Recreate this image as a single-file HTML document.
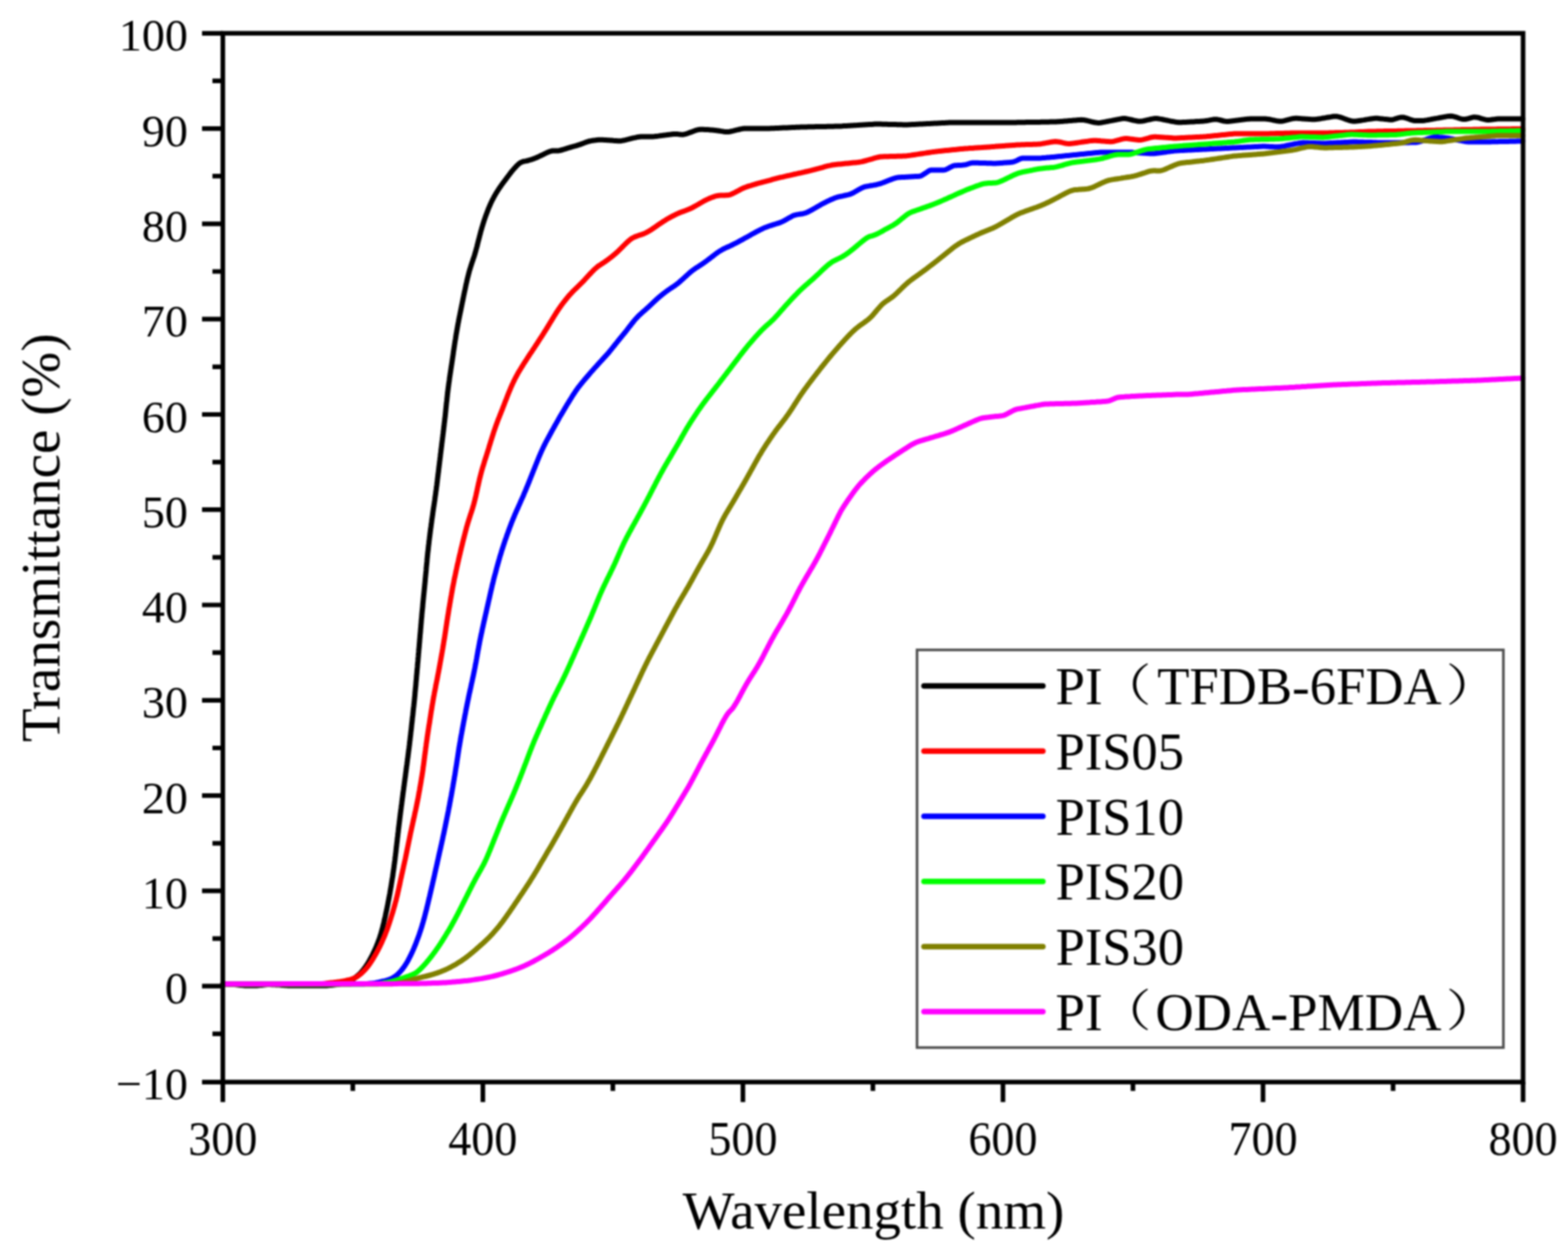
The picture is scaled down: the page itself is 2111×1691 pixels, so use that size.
<!DOCTYPE html>
<html><head><meta charset="utf-8"><style>
html,body{margin:0;padding:0;background:#fff;}
body{width:2111px;height:1691px;overflow:hidden;}
svg{display:block;filter:blur(0.9px);}
</style></head><body>
<svg width="2111" height="1691" viewBox="0 0 2111 1691" xmlns="http://www.w3.org/2000/svg">
<rect width="2111" height="1691" fill="#fff"/>
<path d="M300.0,1325.0 302.3,1325.1 304.0,1325.1 306.0,1325.2 308.0,1325.3 310.0,1325.3 312.0,1325.4 314.0,1325.5 316.0,1325.6 318.0,1325.8 320.0,1326.0 322.0,1326.2 323.9,1326.4 325.9,1326.6 327.9,1326.8 329.9,1326.9 331.9,1327.0 333.9,1327.0 335.9,1327.0 337.9,1327.0 339.9,1327.0 341.9,1327.0 343.9,1327.0 345.9,1326.9 347.9,1326.8 349.9,1326.6 351.9,1326.4 353.9,1326.2 355.9,1325.9 357.9,1325.8 359.8,1325.6 361.8,1325.6 363.8,1325.6 365.8,1325.7 367.8,1325.8 369.8,1325.8 371.8,1325.9 373.8,1326.0 375.8,1326.1 377.8,1326.2 379.8,1326.4 381.8,1326.5 383.8,1326.7 385.8,1326.8 387.8,1326.9 389.8,1327.0 391.8,1327.0 393.8,1327.0 395.8,1327.0 397.8,1327.0 399.8,1327.0 401.8,1327.0 403.8,1327.0 405.8,1327.0 407.8,1327.0 409.8,1327.0 411.8,1327.0 413.8,1327.0 415.8,1327.0 417.8,1327.0 419.8,1327.0 421.8,1327.0 423.8,1327.0 425.8,1327.0 427.8,1327.0 429.8,1327.0 431.8,1327.0 433.8,1327.0 435.8,1327.0 437.8,1327.0 439.8,1326.9 441.8,1326.8 443.8,1326.6 445.8,1326.4 447.8,1326.2 449.7,1326.0 451.7,1325.8 453.7,1325.6 455.7,1325.3 457.7,1324.9 459.6,1324.5 461.6,1324.1 463.5,1323.6 465.4,1323.0 467.3,1322.4 469.1,1321.6 470.9,1320.8 472.7,1319.9 474.4,1318.9 476.0,1317.8 477.6,1316.7 479.2,1315.5 480.7,1314.2 482.2,1312.9 483.7,1311.6 485.1,1310.2 486.4,1308.8 487.7,1307.3 489.0,1305.8 490.2,1304.2 491.4,1302.6 492.5,1301.0 493.6,1299.3 494.7,1297.7 495.8,1296.0 496.8,1294.3 497.7,1292.5 498.7,1290.8 499.6,1289.0 500.6,1287.3 501.5,1285.5 502.3,1283.7 503.2,1281.9 504.0,1280.1 504.9,1278.3 505.7,1276.4 506.5,1274.6 507.2,1272.8 508.0,1270.9 508.7,1269.1 509.4,1267.2 510.1,1265.3 510.8,1263.4 511.4,1261.5 512.0,1259.6 512.6,1257.7 513.2,1255.8 513.7,1253.9 514.2,1252.0 514.8,1250.1 515.3,1248.1 515.7,1246.2 516.2,1244.3 516.7,1242.3 517.1,1240.4 517.6,1238.4 518.0,1236.5 518.5,1234.5 518.9,1232.6 519.3,1230.6 519.7,1228.7 520.2,1226.7 520.6,1224.7 521.0,1222.8 521.4,1220.8 521.8,1218.9 522.2,1216.9 522.5,1214.9 522.9,1213.0 523.3,1211.0 523.7,1209.0 524.0,1207.1 524.4,1205.1 524.8,1203.1 525.1,1201.2 525.4,1199.2 525.8,1197.2 526.1,1195.3 526.5,1193.3 526.8,1191.3 527.1,1189.3 527.4,1187.4 527.7,1185.4 528.0,1183.4 528.4,1181.4 528.7,1179.5 529.0,1177.5 529.2,1175.5 529.5,1173.5 529.8,1171.6 530.1,1169.6 530.4,1167.6 530.6,1165.6 530.9,1163.6 531.2,1161.6 531.4,1159.7 531.7,1157.7 531.9,1155.7 532.1,1153.7 532.4,1151.7 532.6,1149.7 532.9,1147.8 533.1,1145.8 533.3,1143.8 533.5,1141.8 533.8,1139.8 534.0,1137.8 534.2,1135.8 534.5,1133.8 534.7,1131.9 534.9,1129.9 535.1,1127.9 535.4,1125.9 535.6,1123.9 535.8,1121.9 536.1,1119.9 536.3,1118.0 536.5,1116.0 536.8,1114.0 537.0,1112.0 537.3,1110.0 537.5,1108.0 537.8,1106.0 538.0,1104.1 538.2,1102.1 538.5,1100.1 538.7,1098.1 539.0,1096.1 539.2,1094.1 539.5,1092.1 539.7,1090.2 540.0,1088.2 540.2,1086.2 540.5,1084.2 540.8,1082.2 541.0,1080.2 541.3,1078.3 541.5,1076.3 541.8,1074.3 542.1,1072.3 542.3,1070.3 542.6,1068.3 542.8,1066.4 543.1,1064.4 543.4,1062.4 543.6,1060.4 543.9,1058.4 544.2,1056.5 544.4,1054.5 544.7,1052.5 545.0,1050.5 545.2,1048.5 545.5,1046.5 545.8,1044.6 546.0,1042.6 546.3,1040.6 546.6,1038.6 546.8,1036.6 547.1,1034.6 547.3,1032.7 547.6,1030.7 547.9,1028.7 548.1,1026.7 548.4,1024.7 548.6,1022.7 548.9,1020.8 549.2,1018.8 549.4,1016.8 549.7,1014.8 549.9,1012.8 550.2,1010.8 550.4,1008.9 550.7,1006.9 550.9,1004.9 551.2,1002.9 551.4,1000.9 551.6,998.9 551.9,997.0 552.1,995.0 552.3,993.0 552.6,991.0 552.8,989.0 553.0,987.0 553.2,985.0 553.5,983.0 553.7,981.1 553.9,979.1 554.1,977.1 554.3,975.1 554.6,973.1 554.8,971.1 555.0,969.1 555.2,967.1 555.4,965.2 555.7,963.2 555.9,961.2 556.1,959.2 556.3,957.2 556.5,955.2 556.7,953.2 557.0,951.2 557.2,949.2 557.4,947.3 557.6,945.3 557.8,943.3 558.0,941.3 558.2,939.3 558.4,937.3 558.6,935.3 558.7,933.3 558.9,931.3 559.1,929.3 559.3,927.3 559.5,925.4 559.7,923.4 559.9,921.4 560.0,919.4 560.2,917.4 560.4,915.4 560.6,913.4 560.7,911.4 560.9,909.4 561.1,907.4 561.3,905.4 561.4,903.4 561.6,901.5 561.8,899.5 562.0,897.5 562.1,895.5 562.3,893.5 562.5,891.5 562.7,889.5 562.8,887.5 563.0,885.5 563.2,883.5 563.3,881.5 563.5,879.5 563.7,877.5 563.8,875.5 564.0,873.6 564.2,871.6 564.4,869.6 564.5,867.6 564.7,865.6 564.9,863.6 565.0,861.6 565.2,859.6 565.4,857.6 565.5,855.6 565.7,853.6 565.9,851.6 566.1,849.6 566.2,847.6 566.4,845.7 566.6,843.7 566.7,841.7 566.9,839.7 567.1,837.7 567.2,835.7 567.4,833.7 567.6,831.7 567.8,829.7 567.9,827.7 568.1,825.7 568.3,823.7 568.5,821.7 568.7,819.8 568.9,817.8 569.1,815.8 569.2,813.8 569.4,811.8 569.6,809.8 569.8,807.8 570.0,805.8 570.2,803.8 570.4,801.8 570.6,799.9 570.8,797.9 571.0,795.9 571.2,793.9 571.4,791.9 571.6,789.9 571.8,787.9 572.0,785.9 572.2,783.9 572.4,781.9 572.5,779.9 572.7,778.0 572.9,776.0 573.1,774.0 573.3,772.0 573.5,770.0 573.7,768.0 573.8,766.0 574.0,764.0 574.2,762.0 574.4,760.0 574.6,758.0 574.8,756.0 574.9,754.1 575.1,752.1 575.3,750.1 575.5,748.1 575.7,746.1 575.9,744.1 576.2,742.1 576.4,740.1 576.6,738.1 576.8,736.2 577.0,734.2 577.3,732.2 577.5,730.2 577.7,728.2 578.0,726.2 578.2,724.2 578.5,722.3 578.7,720.3 579.0,718.3 579.2,716.3 579.5,714.3 579.7,712.3 580.0,710.4 580.3,708.4 580.5,706.4 580.8,704.4 581.1,702.4 581.3,700.4 581.6,698.5 581.9,696.5 582.2,694.5 582.5,692.5 582.7,690.5 583.0,688.6 583.3,686.6 583.6,684.6 583.9,682.6 584.2,680.7 584.5,678.7 584.8,676.7 585.1,674.7 585.4,672.7 585.6,670.8 585.9,668.8 586.2,666.8 586.5,664.8 586.7,662.8 587.0,660.9 587.3,658.9 587.5,656.9 587.8,654.9 588.1,652.9 588.3,650.9 588.6,649.0 588.8,647.0 589.0,645.0 589.3,643.0 589.5,641.0 589.8,639.0 590.0,637.0 590.3,635.1 590.5,633.1 590.7,631.1 591.0,629.1 591.2,627.1 591.5,625.1 591.7,623.1 591.9,621.2 592.2,619.2 592.4,617.2 592.7,615.2 592.9,613.2 593.1,611.2 593.4,609.2 593.6,607.3 593.9,605.3 594.1,603.3 594.4,601.3 594.6,599.3 594.8,597.3 595.1,595.4 595.3,593.4 595.6,591.4 595.8,589.4 596.1,587.4 596.3,585.4 596.6,583.4 596.8,581.5 597.1,579.5 597.3,577.5 597.5,575.5 597.8,573.5 598.0,571.5 598.2,569.5 598.5,567.6 598.7,565.6 598.9,563.6 599.2,561.6 599.4,559.6 599.6,557.6 599.8,555.6 600.0,553.6 600.2,551.7 600.4,549.7 600.6,547.7 600.8,545.7 601.0,543.7 601.2,541.7 601.5,539.7 601.7,537.7 601.9,535.7 602.1,533.8 602.3,531.8 602.5,529.8 602.8,527.8 603.0,525.8 603.3,523.8 603.5,521.8 603.8,519.9 604.0,517.9 604.3,515.9 604.6,513.9 604.9,511.9 605.1,510.0 605.4,508.0 605.7,506.0 606.0,504.0 606.3,502.0 606.6,500.1 606.9,498.1 607.2,496.1 607.5,494.1 607.8,492.1 608.1,490.2 608.4,488.2 608.7,486.2 609.0,484.2 609.3,482.3 609.6,480.3 609.9,478.3 610.2,476.3 610.4,474.3 610.7,472.4 611.0,470.4 611.3,468.4 611.6,466.4 611.9,464.5 612.2,462.5 612.5,460.5 612.8,458.5 613.2,456.6 613.5,454.6 613.8,452.6 614.1,450.6 614.4,448.7 614.8,446.7 615.1,444.7 615.5,442.7 615.8,440.8 616.2,438.8 616.5,436.8 616.9,434.9 617.3,432.9 617.6,431.0 618.0,429.0 618.4,427.0 618.8,425.1 619.2,423.1 619.6,421.1 620.0,419.2 620.4,417.2 620.8,415.3 621.2,413.3 621.6,411.3 622.0,409.4 622.4,407.4 622.8,405.5 623.2,403.5 623.6,401.5 624.0,399.6 624.4,397.6 624.8,395.7 625.2,393.7 625.6,391.8 626.1,389.8 626.5,387.9 626.9,385.9 627.3,383.9 627.7,382.0 628.2,380.0 628.6,378.1 629.1,376.1 629.5,374.2 630.0,372.3 630.5,370.3 631.0,368.4 631.5,366.5 632.0,364.5 632.6,362.6 633.2,360.7 633.8,358.8 634.4,356.9 635.0,355.0 635.6,353.1 636.3,351.2 636.9,349.4 637.5,347.5 638.2,345.6 638.8,343.7 639.4,341.8 639.9,339.9 640.5,338.0 641.0,336.0 641.5,334.1 642.1,332.2 642.6,330.2 643.0,328.3 643.5,326.4 644.0,324.4 644.5,322.5 645.0,320.6 645.5,318.6 646.0,316.7 646.5,314.8 647.0,312.8 647.5,310.9 648.1,309.0 648.6,307.1 649.2,305.2 649.8,303.2 650.4,301.3 651.0,299.4 651.6,297.5 652.2,295.6 652.9,293.7 653.5,291.9 654.2,290.0 654.9,288.1 655.6,286.2 656.3,284.4 657.0,282.5 657.7,280.6 658.5,278.8 659.3,277.0 660.1,275.1 660.9,273.3 661.8,271.5 662.6,269.7 663.6,268.0 664.5,266.2 665.4,264.4 666.4,262.7 667.4,261.0 668.4,259.3 669.5,257.6 670.6,255.9 671.7,254.2 672.8,252.6 673.9,251.0 675.1,249.3 676.2,247.7 677.4,246.1 678.6,244.5 679.8,242.9 681.0,241.3 682.2,239.7 683.4,238.1 684.6,236.5 685.8,234.9 687.0,233.3 688.2,231.8 689.4,230.2 690.7,228.7 692.0,227.2 693.3,225.8 694.6,224.4 695.9,223.0 697.3,221.7 698.8,220.4 700.3,219.3 701.9,218.4 703.7,217.7 705.5,217.2 707.5,216.9 709.4,216.5 711.4,216.0 713.3,215.4 715.2,214.9 717.1,214.2 719.0,213.6 720.8,212.8 722.7,212.1 724.5,211.2 726.3,210.4 728.1,209.5 729.9,208.7 731.7,207.8 733.4,206.9 735.2,206.1 737.0,205.2 738.8,204.5 740.6,203.8 742.4,203.3 744.3,203.0 746.2,203.0 748.2,203.0 750.1,203.0 752.1,202.9 754.0,202.5 755.9,202.0 757.8,201.5 759.7,200.9 761.6,200.3 763.5,199.7 765.4,199.1 767.3,198.5 769.2,198.0 771.2,197.4 773.1,196.9 775.0,196.4 776.9,195.8 778.8,195.2 780.7,194.6 782.6,193.9 784.5,193.2 786.3,192.5 788.2,191.8 790.1,191.1 791.9,190.5 793.9,190.0 795.8,189.6 797.8,189.3 799.8,189.0 801.7,188.8 803.7,188.5 805.7,188.3 807.7,188.2 809.7,188.2 811.7,188.3 813.7,188.4 815.7,188.5 817.7,188.7 819.7,188.8 821.7,189.0 823.7,189.1 825.7,189.3 827.6,189.4 829.6,189.5 831.6,189.7 833.6,189.7 835.6,189.7 837.6,189.4 839.5,189.0 841.5,188.6 843.4,188.1 845.3,187.7 847.3,187.2 849.2,186.7 851.2,186.2 853.1,185.7 855.0,185.3 857.0,184.8 858.9,184.4 860.9,184.2 862.9,184.0 864.9,184.0 866.9,184.0 868.9,184.0 870.9,184.0 872.9,184.0 874.9,184.0 876.9,184.0 878.9,183.9 880.9,183.8 882.9,183.6 884.8,183.4 886.8,183.1 888.8,182.8 890.8,182.6 892.8,182.3 894.8,182.0 896.7,181.8 898.7,181.5 900.7,181.2 902.7,181.0 904.7,180.7 906.6,180.5 908.6,180.4 910.6,180.4 912.6,180.6 914.5,180.9 916.5,181.1 918.4,181.2 920.3,181.0 922.2,180.6 924.1,180.1 926.0,179.5 927.8,178.8 929.7,178.1 931.5,177.4 933.4,176.7 935.3,176.0 937.1,175.4 939.0,174.9 940.9,174.5 942.9,174.3 944.9,174.3 946.9,174.3 948.9,174.4 950.9,174.5 952.9,174.6 954.9,174.7 956.9,174.9 958.9,175.0 960.8,175.2 962.8,175.4 964.8,175.7 966.8,176.0 968.8,176.3 970.7,176.6 972.7,176.9 974.7,177.2 976.7,177.4 978.6,177.5 980.6,177.4 982.5,177.2 984.5,176.8 986.4,176.4 988.4,175.9 990.3,175.4 992.3,174.9 994.2,174.5 996.1,174.0 998.1,173.6 1000.0,173.3 1002.0,173.1 1004.0,173.0 1006.0,173.0 1008.0,173.0 1010.0,173.0 1012.0,173.0 1014.0,173.0 1016.0,173.0 1018.0,173.0 1020.0,173.0 1022.0,173.0 1024.0,173.0 1026.0,173.0 1028.0,173.0 1030.0,173.0 1032.0,173.0 1034.0,173.0 1036.0,172.9 1038.0,172.8 1040.0,172.7 1042.0,172.7 1044.0,172.6 1046.0,172.5 1048.0,172.4 1050.0,172.3 1052.0,172.2 1054.0,172.1 1056.0,172.0 1058.0,172.0 1060.0,171.9 1062.0,171.8 1064.0,171.7 1066.0,171.6 1068.0,171.5 1070.0,171.4 1072.0,171.3 1074.0,171.3 1076.0,171.2 1078.0,171.1 1080.0,171.0 1082.0,171.0 1084.0,170.9 1086.0,170.9 1088.0,170.8 1090.0,170.8 1092.0,170.8 1094.0,170.7 1096.0,170.7 1098.0,170.6 1100.0,170.6 1102.0,170.6 1104.0,170.5 1106.0,170.5 1108.0,170.4 1110.0,170.4 1112.0,170.4 1114.0,170.3 1116.0,170.3 1118.0,170.2 1120.0,170.2 1122.0,170.2 1124.0,170.1 1126.0,170.1 1128.0,170.0 1130.0,170.0 1132.0,169.9 1134.0,169.8 1136.0,169.6 1137.9,169.5 1139.9,169.4 1141.9,169.3 1143.9,169.2 1145.9,169.0 1147.9,168.9 1149.9,168.8 1151.9,168.7 1153.9,168.6 1155.9,168.4 1157.9,168.3 1159.9,168.2 1161.9,168.1 1163.9,168.0 1165.9,167.8 1167.9,167.7 1169.9,167.6 1171.9,167.5 1173.9,167.4 1175.9,167.2 1177.9,167.1 1179.9,167.1 1181.9,167.1 1183.9,167.1 1185.9,167.1 1187.9,167.2 1189.9,167.2 1191.9,167.3 1193.9,167.3 1195.9,167.4 1197.9,167.4 1199.9,167.5 1201.9,167.5 1203.9,167.6 1205.9,167.6 1207.9,167.7 1209.9,167.7 1211.9,167.8 1213.9,167.8 1215.9,167.9 1217.9,167.9 1219.9,167.9 1221.9,167.9 1223.9,167.8 1225.9,167.7 1227.9,167.6 1229.8,167.5 1231.8,167.4 1233.8,167.3 1235.8,167.2 1237.8,167.1 1239.8,167.0 1241.8,166.9 1243.8,166.8 1245.8,166.7 1247.8,166.6 1249.8,166.5 1251.8,166.4 1253.8,166.3 1255.8,166.2 1257.8,166.1 1259.8,166.0 1261.8,165.9 1263.8,165.8 1265.8,165.7 1267.8,165.6 1269.8,165.5 1271.8,165.4 1273.8,165.3 1275.8,165.2 1277.8,165.1 1279.8,165.0 1281.8,165.0 1283.8,165.0 1285.8,165.0 1287.8,165.0 1289.8,165.0 1291.8,165.0 1293.8,165.0 1295.8,165.0 1297.8,165.0 1299.8,165.0 1301.8,165.0 1303.8,165.0 1305.8,165.0 1307.8,165.0 1309.8,165.0 1311.8,165.0 1313.8,165.0 1315.8,165.0 1317.8,165.0 1319.8,165.0 1321.8,165.0 1323.8,165.0 1325.8,165.0 1327.8,165.0 1329.8,165.0 1331.8,165.0 1333.8,165.0 1335.8,165.0 1337.8,165.0 1339.8,165.0 1341.8,165.0 1343.8,165.0 1345.8,165.0 1347.8,165.0 1349.8,165.0 1351.8,165.0 1353.8,165.0 1355.8,165.0 1357.8,165.0 1359.8,165.0 1361.8,165.0 1363.8,164.9 1365.8,164.9 1367.8,164.9 1369.8,164.8 1371.8,164.8 1373.8,164.8 1375.8,164.7 1377.8,164.7 1379.8,164.7 1381.8,164.6 1383.8,164.6 1385.8,164.6 1387.8,164.6 1389.8,164.5 1391.8,164.5 1393.8,164.5 1395.8,164.4 1397.8,164.4 1399.8,164.4 1401.8,164.3 1403.8,164.3 1405.8,164.3 1407.8,164.2 1409.8,164.2 1411.8,164.2 1413.8,164.1 1415.8,164.1 1417.8,164.1 1419.8,164.0 1421.8,164.0 1423.8,163.8 1425.8,163.7 1427.8,163.5 1429.8,163.4 1431.7,163.2 1433.7,163.0 1435.7,162.9 1437.7,162.7 1439.7,162.5 1441.7,162.4 1443.7,162.2 1445.7,162.0 1447.7,161.9 1449.7,161.7 1451.7,161.5 1453.7,161.4 1455.7,161.3 1457.6,161.4 1459.6,161.6 1461.5,162.0 1463.5,162.4 1465.4,162.9 1467.4,163.3 1469.3,163.8 1471.2,164.3 1473.2,164.7 1475.1,165.1 1477.1,165.3 1479.0,165.4 1481.0,165.3 1482.9,165.0 1484.9,164.6 1486.9,164.3 1488.8,163.9 1490.8,163.5 1492.8,163.1 1494.7,162.7 1496.7,162.4 1498.7,162.0 1500.6,161.6 1502.6,161.2 1504.5,160.8 1506.5,160.5 1508.5,160.1 1510.4,159.8 1512.4,159.6 1514.3,159.6 1516.3,159.8 1518.2,160.2 1520.2,160.6 1522.1,161.0 1524.1,161.5 1526.0,162.0 1527.9,162.4 1529.9,162.8 1531.8,163.2 1533.8,163.3 1535.7,163.2 1537.7,163.0 1539.6,162.7 1541.6,162.3 1543.5,161.8 1545.5,161.4 1547.4,161.0 1549.4,160.5 1551.3,160.1 1553.3,159.8 1555.2,159.6 1557.2,159.6 1559.1,159.8 1561.1,160.1 1563.0,160.4 1565.0,160.8 1567.0,161.2 1568.9,161.6 1570.9,162.0 1572.9,162.4 1574.8,162.8 1576.8,163.2 1578.7,163.5 1580.7,163.9 1582.7,164.3 1584.6,164.6 1586.6,164.8 1588.6,164.8 1590.6,164.7 1592.6,164.6 1594.6,164.5 1596.6,164.4 1598.6,164.3 1600.6,164.2 1602.6,164.1 1604.6,164.0 1606.6,163.9 1608.6,163.7 1610.6,163.6 1612.6,163.5 1614.5,163.4 1616.5,163.3 1618.5,163.2 1620.5,163.0 1622.5,162.8 1624.5,162.5 1626.5,162.2 1628.4,161.8 1630.4,161.4 1632.4,161.1 1634.3,160.8 1636.3,160.7 1638.2,160.8 1640.1,161.1 1642.0,161.5 1643.9,162.0 1645.8,162.5 1647.8,163.0 1649.7,163.3 1651.6,163.5 1653.6,163.5 1655.6,163.3 1657.6,163.1 1659.5,162.8 1661.5,162.6 1663.5,162.3 1665.5,162.1 1667.5,161.8 1669.5,161.6 1671.4,161.3 1673.4,161.1 1675.4,160.8 1677.4,160.6 1679.4,160.3 1681.4,160.2 1683.4,160.0 1685.4,160.0 1687.4,160.0 1689.4,160.0 1691.4,160.0 1693.4,160.0 1695.4,160.0 1697.4,160.0 1699.4,160.0 1701.4,160.0 1703.4,160.0 1705.3,160.2 1707.3,160.4 1709.3,160.8 1711.2,161.2 1713.2,161.6 1715.1,162.0 1717.1,162.4 1719.0,162.8 1721.0,163.1 1722.9,163.3 1724.9,163.2 1726.8,163.0 1728.7,162.6 1730.7,162.1 1732.6,161.6 1734.5,161.1 1736.5,160.6 1738.4,160.1 1740.3,159.7 1742.3,159.4 1744.2,159.3 1746.2,159.3 1748.2,159.4 1750.2,159.6 1752.2,159.7 1754.2,159.9 1756.2,160.0 1758.2,160.2 1760.2,160.3 1762.2,160.4 1764.2,160.6 1766.2,160.7 1768.2,160.8 1770.2,160.7 1772.1,160.6 1774.1,160.3 1776.1,160.0 1778.1,159.7 1780.0,159.3 1782.0,159.0 1784.0,158.7 1785.9,158.3 1787.9,158.0 1789.9,157.7 1791.9,157.4 1793.8,157.0 1795.8,156.8 1797.8,156.7 1799.7,156.8 1801.6,157.1 1803.5,157.6 1805.4,158.2 1807.2,158.8 1809.1,159.5 1811.0,160.2 1812.9,160.9 1814.7,161.5 1816.6,162.1 1818.5,162.7 1820.4,163.1 1822.3,163.3 1824.3,163.3 1826.2,163.1 1828.2,162.8 1830.2,162.5 1832.1,162.2 1834.1,161.9 1836.1,161.6 1838.1,161.2 1840.0,160.9 1842.0,160.6 1844.0,160.3 1846.0,160.0 1847.9,159.7 1849.9,159.4 1851.9,159.3 1853.9,159.3 1855.9,159.5 1857.8,159.7 1859.8,159.9 1861.8,160.1 1863.8,160.4 1865.8,160.6 1867.8,160.8 1869.8,161.0 1871.7,161.2 1873.7,161.3 1875.5,161.0 1877.2,160.5 1878.9,159.8 1880.6,159.3 1882.2,158.8 1883.9,158.4 1885.6,158.1 1887.3,157.9 1889.0,158.0 1890.8,158.3 1892.6,158.8 1894.4,159.4 1896.2,160.1 1898.1,160.8 1900.0,161.4 1901.9,162.0 1903.8,162.4 1905.7,162.6 1907.7,162.6 1909.7,162.6 1911.7,162.6 1913.7,162.6 1915.7,162.4 1917.7,162.2 1919.7,161.9 1921.6,161.6 1923.6,161.2 1925.6,160.9 1927.5,160.5 1929.5,160.1 1931.5,159.8 1933.4,159.4 1935.4,159.1 1937.4,158.7 1939.3,158.3 1941.3,158.0 1943.3,157.6 1945.3,157.3 1947.2,156.9 1949.2,156.6 1951.1,156.4 1953.1,156.3 1955.0,156.4 1956.9,156.8 1958.8,157.3 1960.7,157.9 1962.5,158.5 1964.4,159.2 1966.2,159.8 1968.1,160.2 1969.9,160.5 1971.7,160.6 1973.4,160.4 1975.2,160.0 1976.9,159.6 1978.7,159.1 1980.4,158.6 1982.2,158.1 1983.9,157.8 1985.7,157.7 1987.6,157.9 1989.5,158.2 1991.3,158.7 1993.2,159.3 1995.1,159.9 1997.1,160.4 1999.0,160.9 2000.9,161.2 2002.8,161.4 2004.8,161.4 2006.8,161.3 2008.7,161.0 2010.7,160.7 2012.7,160.5 2014.7,160.2 2016.7,160.1 2018.7,160.0 2020.7,160.0 2022.7,160.0 2024.7,160.0 2026.7,160.0 2028.7,160.0 2030.7,160.0 2032.7,160.0 2034.7,160.0 2036.7,160.0 2038.7,160.0 2040.7,160.0 2042.7,160.0 2044.7,160.0 2046.7,160.0 2048.5,160.0 2050.0,160.0" fill="none" stroke="#000000" stroke-width="7" stroke-linejoin="round" stroke-linecap="round"/>
<path d="M300.0,1325.0 302.2,1325.0 304.0,1325.0 306.0,1325.0 308.0,1325.0 310.0,1325.0 312.0,1325.0 314.0,1325.0 316.0,1325.0 318.0,1325.0 320.0,1325.0 322.0,1325.0 324.0,1325.0 326.0,1325.0 328.0,1325.0 330.0,1325.0 332.0,1325.0 334.0,1324.9 336.0,1324.9 338.0,1324.9 340.0,1324.9 342.0,1324.9 344.0,1324.9 346.0,1324.9 348.0,1324.9 350.0,1324.9 352.0,1324.9 354.0,1324.9 356.0,1324.9 358.0,1324.9 360.0,1324.9 362.0,1324.9 364.0,1324.9 366.0,1324.9 368.0,1324.9 370.0,1324.9 372.0,1324.9 374.0,1324.9 376.0,1324.9 378.0,1324.9 380.0,1324.9 382.0,1324.9 384.0,1324.9 386.0,1324.9 388.0,1324.9 390.0,1324.9 392.0,1324.9 394.0,1324.9 396.0,1324.9 398.0,1324.8 400.0,1324.8 402.0,1324.8 404.0,1324.8 406.0,1324.8 408.0,1324.8 410.0,1324.8 412.0,1324.8 414.0,1324.8 416.0,1324.8 418.0,1324.8 420.0,1324.8 422.0,1324.8 424.0,1324.8 426.0,1324.8 428.0,1324.8 430.0,1324.7 432.0,1324.6 434.0,1324.4 436.0,1324.2 438.0,1324.0 439.9,1323.7 441.9,1323.5 443.9,1323.3 445.9,1323.1 447.9,1322.9 449.9,1322.6 451.9,1322.4 453.8,1322.1 455.8,1321.9 457.8,1321.6 459.8,1321.3 461.8,1321.0 463.7,1320.6 465.7,1320.2 467.6,1319.7 469.6,1319.3 471.5,1318.8 473.4,1318.2 475.3,1317.5 477.1,1316.7 478.9,1315.9 480.6,1314.9 482.2,1313.8 483.8,1312.7 485.3,1311.4 486.8,1310.2 488.3,1308.8 489.7,1307.4 491.0,1306.0 492.4,1304.6 493.6,1303.1 494.9,1301.5 496.1,1300.0 497.3,1298.4 498.4,1296.7 499.5,1295.1 500.6,1293.4 501.7,1291.7 502.7,1290.0 503.7,1288.3 504.7,1286.6 505.7,1284.9 506.7,1283.1 507.6,1281.4 508.6,1279.6 509.5,1277.8 510.4,1276.0 511.3,1274.3 512.2,1272.5 513.0,1270.7 513.9,1268.9 514.7,1267.0 515.5,1265.2 516.3,1263.4 517.1,1261.6 517.9,1259.7 518.6,1257.9 519.3,1256.0 520.1,1254.1 520.8,1252.3 521.5,1250.4 522.1,1248.5 522.8,1246.6 523.4,1244.7 524.1,1242.8 524.7,1240.9 525.3,1239.0 525.9,1237.1 526.5,1235.2 527.1,1233.3 527.7,1231.4 528.3,1229.5 528.9,1227.6 529.4,1225.7 530.0,1223.7 530.5,1221.8 531.1,1219.9 531.6,1218.0 532.1,1216.0 532.6,1214.1 533.2,1212.2 533.6,1210.2 534.1,1208.3 534.6,1206.4 535.1,1204.4 535.5,1202.5 535.9,1200.5 536.4,1198.6 536.8,1196.6 537.2,1194.7 537.7,1192.7 538.1,1190.7 538.5,1188.8 538.9,1186.8 539.3,1184.9 539.7,1182.9 540.2,1181.0 540.6,1179.0 541.0,1177.1 541.5,1175.1 541.9,1173.2 542.3,1171.2 542.8,1169.3 543.2,1167.3 543.6,1165.4 544.1,1163.4 544.5,1161.5 544.9,1159.5 545.4,1157.5 545.8,1155.6 546.2,1153.6 546.6,1151.7 547.0,1149.7 547.4,1147.8 547.8,1145.8 548.2,1143.8 548.6,1141.9 549.0,1139.9 549.4,1138.0 549.8,1136.0 550.2,1134.0 550.6,1132.1 551.0,1130.1 551.4,1128.2 551.8,1126.2 552.2,1124.2 552.6,1122.3 553.0,1120.3 553.5,1118.4 553.9,1116.4 554.3,1114.5 554.7,1112.5 555.2,1110.6 555.6,1108.6 556.0,1106.7 556.5,1104.7 556.9,1102.7 557.3,1100.8 557.8,1098.8 558.2,1096.9 558.6,1094.9 559.0,1093.0 559.5,1091.0 559.9,1089.1 560.3,1087.1 560.7,1085.2 561.1,1083.2 561.5,1081.2 561.9,1079.3 562.3,1077.3 562.7,1075.4 563.1,1073.4 563.4,1071.4 563.8,1069.5 564.1,1067.5 564.5,1065.5 564.9,1063.6 565.2,1061.6 565.5,1059.6 565.9,1057.7 566.2,1055.7 566.6,1053.7 566.9,1051.7 567.2,1049.8 567.5,1047.8 567.9,1045.8 568.2,1043.8 568.5,1041.9 568.8,1039.9 569.1,1037.9 569.4,1035.9 569.6,1034.0 569.9,1032.0 570.2,1030.0 570.5,1028.0 570.7,1026.0 571.0,1024.0 571.2,1022.1 571.5,1020.1 571.7,1018.1 572.0,1016.1 572.3,1014.1 572.5,1012.1 572.8,1010.2 573.0,1008.2 573.3,1006.2 573.6,1004.2 573.8,1002.2 574.1,1000.3 574.4,998.3 574.7,996.3 575.0,994.3 575.2,992.3 575.5,990.4 575.8,988.4 576.1,986.4 576.4,984.4 576.7,982.4 577.0,980.5 577.3,978.5 577.6,976.5 578.0,974.5 578.3,972.6 578.6,970.6 578.9,968.6 579.2,966.6 579.5,964.7 579.8,962.7 580.1,960.7 580.4,958.7 580.7,956.8 581.1,954.8 581.4,952.8 581.7,950.8 582.0,948.9 582.4,946.9 582.7,944.9 583.0,943.0 583.4,941.0 583.7,939.0 584.1,937.0 584.5,935.1 584.8,933.1 585.2,931.2 585.6,929.2 586.0,927.2 586.4,925.3 586.7,923.3 587.1,921.3 587.5,919.4 587.9,917.4 588.3,915.5 588.7,913.5 589.1,911.5 589.4,909.6 589.8,907.6 590.2,905.6 590.6,903.7 590.9,901.7 591.3,899.7 591.7,897.8 592.0,895.8 592.4,893.8 592.7,891.9 593.1,889.9 593.4,887.9 593.8,886.0 594.1,884.0 594.5,882.0 594.8,880.1 595.2,878.1 595.5,876.1 595.9,874.1 596.2,872.2 596.5,870.2 596.9,868.2 597.2,866.3 597.5,864.3 597.8,862.3 598.2,860.3 598.5,858.4 598.8,856.4 599.1,854.4 599.4,852.4 599.7,850.5 600.0,848.5 600.3,846.5 600.6,844.5 600.9,842.5 601.2,840.6 601.5,838.6 601.8,836.6 602.1,834.6 602.4,832.7 602.7,830.7 603.0,828.7 603.4,826.7 603.7,824.8 604.0,822.8 604.3,820.8 604.6,818.8 605.0,816.9 605.3,814.9 605.6,812.9 606.0,810.9 606.3,809.0 606.6,807.0 607.0,805.0 607.3,803.1 607.7,801.1 608.0,799.1 608.4,797.2 608.7,795.2 609.1,793.2 609.4,791.3 609.8,789.3 610.2,787.3 610.6,785.4 611.0,783.4 611.3,781.4 611.7,779.5 612.1,777.5 612.6,775.6 613.0,773.6 613.4,771.7 613.8,769.7 614.2,767.7 614.7,765.8 615.1,763.8 615.5,761.9 616.0,759.9 616.4,758.0 616.9,756.0 617.3,754.1 617.7,752.1 618.2,750.2 618.6,748.2 619.1,746.3 619.6,744.3 620.0,742.4 620.5,740.5 620.9,738.5 621.4,736.6 621.9,734.6 622.4,732.7 622.8,730.7 623.3,728.8 623.8,726.9 624.3,724.9 624.8,723.0 625.3,721.0 625.8,719.1 626.3,717.2 626.8,715.2 627.3,713.3 627.8,711.4 628.3,709.4 628.9,707.5 629.4,705.6 630.0,703.7 630.6,701.8 631.2,699.9 631.8,698.0 632.4,696.1 633.0,694.2 633.6,692.3 634.3,690.4 634.9,688.5 635.5,686.6 636.1,684.7 636.7,682.8 637.2,680.9 637.8,678.9 638.3,677.0 638.8,675.1 639.3,673.2 639.8,671.2 640.2,669.3 640.7,667.3 641.1,665.4 641.6,663.4 642.0,661.5 642.4,659.5 642.8,657.6 643.2,655.6 643.7,653.7 644.1,651.7 644.5,649.8 645.0,647.8 645.4,645.9 645.9,643.9 646.4,642.0 646.9,640.0 647.4,638.1 647.9,636.2 648.4,634.3 649.0,632.3 649.5,630.4 650.1,628.5 650.7,626.6 651.3,624.7 651.9,622.8 652.4,620.9 653.0,619.0 653.7,617.0 654.3,615.1 654.9,613.2 655.5,611.3 656.1,609.4 656.7,607.5 657.3,605.6 657.9,603.7 658.4,601.8 659.0,599.9 659.6,598.0 660.2,596.1 660.8,594.1 661.4,592.2 662.0,590.3 662.6,588.4 663.2,586.5 663.8,584.6 664.4,582.7 665.0,580.8 665.7,578.9 666.3,577.0 667.0,575.1 667.6,573.2 668.3,571.4 669.0,569.5 669.7,567.6 670.4,565.8 671.1,563.9 671.9,562.0 672.6,560.2 673.3,558.3 674.1,556.5 674.8,554.6 675.6,552.7 676.3,550.9 677.0,549.0 677.7,547.2 678.5,545.3 679.2,543.4 679.9,541.6 680.6,539.7 681.4,537.8 682.1,536.0 682.8,534.1 683.5,532.2 684.3,530.4 685.0,528.5 685.8,526.7 686.6,524.8 687.3,523.0 688.1,521.2 688.9,519.3 689.7,517.5 690.6,515.7 691.4,513.9 692.3,512.1 693.2,510.3 694.1,508.5 695.0,506.8 696.0,505.0 696.9,503.3 697.9,501.6 698.9,499.8 700.0,498.1 701.0,496.4 702.1,494.7 703.1,493.0 704.2,491.3 705.2,489.6 706.3,487.9 707.4,486.3 708.5,484.6 709.6,482.9 710.7,481.2 711.8,479.5 712.8,477.9 713.9,476.2 715.1,474.5 716.2,472.9 717.3,471.2 718.4,469.5 719.5,467.9 720.6,466.2 721.7,464.5 722.8,462.8 723.9,461.2 724.9,459.5 726.0,457.8 727.1,456.1 728.2,454.5 729.3,452.8 730.4,451.1 731.5,449.4 732.5,447.7 733.6,446.0 734.7,444.3 735.7,442.7 736.8,441.0 737.8,439.2 738.9,437.5 739.9,435.8 740.9,434.1 742.0,432.4 743.0,430.7 744.0,429.0 745.1,427.3 746.1,425.6 747.2,423.9 748.2,422.2 749.3,420.5 750.4,418.8 751.5,417.2 752.6,415.5 753.8,413.9 754.9,412.3 756.1,410.6 757.3,409.0 758.5,407.4 759.7,405.9 760.9,404.3 762.2,402.7 763.4,401.2 764.7,399.6 766.0,398.1 767.3,396.6 768.7,395.2 770.0,393.7 771.4,392.3 772.8,390.9 774.2,389.5 775.7,388.1 777.1,386.7 778.6,385.3 780.0,383.9 781.4,382.5 782.8,381.1 784.2,379.7 785.6,378.3 787.0,376.8 788.3,375.3 789.7,373.9 791.0,372.4 792.4,370.9 793.7,369.5 795.1,368.0 796.4,366.6 797.8,365.2 799.2,363.8 800.6,362.4 802.1,361.1 803.6,359.8 805.1,358.6 806.7,357.4 808.4,356.4 810.0,355.3 811.7,354.2 813.4,353.1 815.0,352.0 816.6,350.9 818.3,349.7 819.8,348.5 821.4,347.3 823.0,346.1 824.6,344.8 826.1,343.5 827.6,342.3 829.1,341.0 830.6,339.6 832.1,338.3 833.5,336.9 834.9,335.5 836.3,334.1 837.7,332.7 839.1,331.3 840.5,329.9 841.9,328.5 843.3,327.1 844.7,325.8 846.2,324.5 847.6,323.2 849.2,322.0 850.8,320.9 852.5,320.0 854.2,319.1 856.1,318.4 857.9,317.7 859.8,317.0 861.7,316.4 863.6,315.8 865.5,315.1 867.3,314.4 869.1,313.6 870.9,312.7 872.6,311.7 874.3,310.7 876.0,309.7 877.7,308.6 879.3,307.5 881.0,306.4 882.6,305.2 884.3,304.1 885.9,302.9 887.6,301.8 889.2,300.7 890.9,299.6 892.5,298.5 894.2,297.4 895.9,296.4 897.6,295.3 899.4,294.3 901.1,293.3 902.8,292.4 904.6,291.4 906.4,290.5 908.2,289.6 909.9,288.7 911.7,287.9 913.6,287.1 915.4,286.3 917.3,285.5 919.1,284.9 921.0,284.2 922.9,283.5 924.8,282.8 926.6,282.1 928.4,281.3 930.2,280.5 932.0,279.6 933.8,278.6 935.5,277.7 937.2,276.7 939.0,275.7 940.7,274.7 942.4,273.7 944.1,272.7 945.9,271.7 947.6,270.7 949.4,269.8 951.2,268.9 953.0,268.1 954.8,267.3 956.6,266.5 958.5,265.8 960.4,265.1 962.2,264.4 964.1,263.9 966.1,263.5 968.0,263.2 970.0,263.1 972.0,263.0 974.0,263.0 976.0,262.9 978.0,262.8 980.0,262.7 981.9,262.4 983.8,261.8 985.6,261.1 987.3,260.2 989.1,259.3 990.8,258.4 992.6,257.5 994.3,256.6 996.1,255.6 997.8,254.7 999.6,253.8 1001.4,253.0 1003.3,252.2 1005.1,251.6 1007.0,250.9 1008.9,250.3 1010.8,249.8 1012.8,249.2 1014.7,248.6 1016.6,248.0 1018.5,247.5 1020.4,246.9 1022.4,246.4 1024.3,245.9 1026.2,245.3 1028.1,244.8 1030.1,244.3 1032.0,243.8 1033.9,243.3 1035.9,242.8 1037.8,242.3 1039.7,241.7 1041.7,241.2 1043.6,240.7 1045.5,240.2 1047.5,239.7 1049.4,239.2 1051.4,238.7 1053.3,238.3 1055.3,237.8 1057.2,237.4 1059.2,236.9 1061.1,236.5 1063.1,236.1 1065.0,235.6 1067.0,235.2 1068.9,234.7 1070.9,234.3 1072.8,233.9 1074.8,233.4 1076.7,233.0 1078.7,232.6 1080.6,232.1 1082.6,231.7 1084.5,231.2 1086.5,230.8 1088.4,230.3 1090.4,229.8 1092.3,229.4 1094.2,228.9 1096.2,228.4 1098.1,227.8 1100.0,227.3 1102.0,226.8 1103.9,226.3 1105.8,225.8 1107.8,225.3 1109.7,224.7 1111.6,224.2 1113.6,223.7 1115.5,223.2 1117.4,222.8 1119.4,222.3 1121.3,222.0 1123.3,221.7 1125.3,221.5 1127.3,221.3 1129.3,221.1 1131.3,220.9 1133.3,220.7 1135.3,220.5 1137.2,220.3 1139.2,220.1 1141.2,219.9 1143.2,219.7 1145.2,219.5 1147.2,219.3 1149.2,219.1 1151.2,218.9 1153.2,218.7 1155.2,218.5 1157.1,218.2 1159.1,217.9 1161.1,217.5 1163.0,217.0 1164.9,216.5 1166.8,216.0 1168.8,215.4 1170.7,214.9 1172.6,214.3 1174.5,213.8 1176.5,213.2 1178.4,212.7 1180.3,212.2 1182.2,211.7 1184.2,211.3 1186.1,211.0 1188.1,210.9 1190.1,210.8 1192.1,210.8 1194.1,210.7 1196.1,210.7 1198.1,210.6 1200.1,210.6 1202.1,210.5 1204.1,210.4 1206.1,210.4 1208.1,210.3 1210.1,210.3 1212.1,210.2 1214.1,210.2 1216.1,210.1 1218.1,210.0 1220.1,209.9 1222.1,209.6 1224.1,209.4 1226.1,209.1 1228.0,208.8 1230.0,208.5 1232.0,208.2 1234.0,207.9 1235.9,207.6 1237.9,207.3 1239.9,207.0 1241.9,206.7 1243.9,206.4 1245.8,206.1 1247.8,205.8 1249.8,205.5 1251.8,205.2 1253.7,204.9 1255.7,204.6 1257.7,204.4 1259.7,204.1 1261.7,203.9 1263.7,203.6 1265.6,203.4 1267.6,203.2 1269.6,203.0 1271.6,202.8 1273.6,202.6 1275.6,202.4 1277.6,202.2 1279.6,202.0 1281.6,201.8 1283.6,201.6 1285.5,201.4 1287.5,201.2 1289.5,201.0 1291.5,200.8 1293.5,200.6 1295.5,200.5 1297.5,200.3 1299.5,200.1 1301.5,199.9 1303.5,199.8 1305.5,199.6 1307.5,199.5 1309.5,199.4 1311.4,199.2 1313.4,199.1 1315.4,199.0 1317.4,198.8 1319.4,198.7 1321.4,198.6 1323.4,198.4 1325.4,198.3 1327.4,198.2 1329.4,198.0 1331.4,197.9 1333.4,197.7 1335.4,197.6 1337.4,197.4 1339.4,197.3 1341.4,197.1 1343.4,197.0 1345.4,196.8 1347.4,196.7 1349.4,196.5 1351.3,196.4 1353.3,196.2 1355.3,196.1 1357.3,196.0 1359.3,195.8 1361.3,195.7 1363.3,195.5 1365.3,195.4 1367.3,195.2 1369.3,195.1 1371.3,195.0 1373.3,194.9 1375.3,194.8 1377.3,194.8 1379.3,194.7 1381.3,194.6 1383.3,194.6 1385.3,194.5 1387.3,194.4 1389.3,194.4 1391.3,194.3 1393.3,194.2 1395.3,194.2 1397.3,194.1 1399.3,193.9 1401.2,193.7 1403.2,193.4 1405.2,193.0 1407.2,192.7 1409.1,192.3 1411.1,192.0 1413.1,191.6 1415.0,191.3 1417.0,191.0 1419.0,190.7 1420.9,190.6 1422.9,190.7 1424.8,190.9 1426.8,191.3 1428.7,191.7 1430.7,192.2 1432.6,192.6 1434.5,193.0 1436.5,193.3 1438.4,193.5 1440.4,193.5 1442.4,193.3 1444.4,193.1 1446.3,192.8 1448.3,192.5 1450.3,192.2 1452.3,191.9 1454.3,191.6 1456.2,191.3 1458.2,191.0 1460.2,190.7 1462.2,190.4 1464.1,190.2 1466.1,189.9 1468.1,189.6 1470.1,189.4 1472.1,189.2 1474.1,189.2 1476.0,189.3 1478.0,189.5 1480.0,189.6 1482.0,189.8 1484.0,189.9 1486.0,190.1 1488.0,190.2 1490.0,190.4 1492.0,190.5 1494.0,190.7 1496.0,190.7 1497.9,190.5 1499.9,190.2 1501.8,189.7 1503.7,189.2 1505.6,188.6 1507.5,188.1 1509.4,187.5 1511.4,187.1 1513.3,186.7 1515.2,186.5 1517.2,186.6 1519.2,186.7 1521.2,187.0 1523.1,187.2 1525.1,187.5 1527.1,187.8 1529.1,188.1 1531.1,188.3 1533.0,188.5 1535.0,188.4 1536.9,188.2 1538.9,187.9 1540.8,187.4 1542.7,186.9 1544.6,186.3 1546.5,185.8 1548.4,185.2 1550.4,184.8 1552.3,184.5 1554.3,184.3 1556.2,184.3 1558.2,184.4 1560.2,184.5 1562.2,184.7 1564.2,184.8 1566.2,184.9 1568.2,185.1 1570.2,185.2 1572.2,185.3 1574.2,185.5 1576.2,185.6 1578.2,185.7 1580.2,185.9 1582.2,185.9 1584.2,185.9 1586.2,185.8 1588.2,185.7 1590.2,185.6 1592.2,185.5 1594.2,185.4 1596.2,185.3 1598.2,185.2 1600.2,185.1 1602.2,185.0 1604.2,184.9 1606.2,184.8 1608.2,184.7 1610.2,184.6 1612.1,184.5 1614.1,184.4 1616.1,184.3 1618.1,184.2 1620.1,184.1 1622.1,183.9 1624.1,183.8 1626.1,183.6 1628.1,183.4 1630.1,183.2 1632.1,183.0 1634.1,182.8 1636.1,182.6 1638.1,182.4 1640.0,182.2 1642.0,182.0 1644.0,181.8 1646.0,181.6 1648.0,181.4 1650.0,181.2 1652.0,181.0 1654.0,180.8 1656.0,180.6 1658.0,180.4 1659.9,180.2 1661.9,180.1 1663.9,180.0 1665.9,180.0 1667.9,180.0 1669.9,180.0 1671.9,180.0 1673.9,180.0 1675.9,180.0 1677.9,180.0 1679.9,180.0 1681.9,180.0 1683.9,180.0 1685.9,180.0 1687.9,180.0 1689.9,180.0 1691.9,180.0 1693.9,180.0 1695.9,180.0 1697.9,180.0 1699.9,180.0 1701.9,180.0 1703.9,179.9 1705.9,179.9 1707.9,179.9 1709.9,179.8 1711.9,179.8 1713.9,179.7 1715.9,179.7 1717.9,179.6 1719.9,179.6 1721.9,179.5 1723.9,179.5 1725.9,179.4 1727.9,179.4 1729.9,179.3 1731.9,179.3 1733.9,179.2 1735.9,179.2 1737.9,179.1 1739.9,179.1 1741.9,179.0 1743.9,179.0 1745.9,179.0 1747.9,179.0 1749.9,179.0 1751.9,179.0 1753.9,179.0 1755.9,179.0 1757.9,179.0 1759.9,179.0 1761.9,179.0 1763.9,179.0 1765.9,179.0 1767.9,179.0 1769.9,179.0 1771.9,179.0 1773.9,179.0 1775.9,179.0 1777.9,179.0 1779.9,179.0 1781.9,179.0 1783.9,178.9 1785.9,178.9 1787.9,178.9 1789.9,178.8 1791.9,178.8 1793.9,178.7 1795.9,178.7 1797.9,178.6 1799.9,178.6 1801.9,178.5 1803.9,178.5 1805.9,178.4 1807.9,178.4 1809.9,178.3 1811.9,178.3 1813.9,178.2 1815.9,178.2 1817.9,178.1 1819.9,178.0 1821.9,178.0 1823.9,177.9 1825.9,177.8 1827.9,177.7 1829.9,177.6 1831.9,177.5 1833.9,177.5 1835.9,177.4 1837.9,177.3 1839.9,177.2 1841.9,177.1 1843.9,177.0 1845.9,177.0 1847.9,176.9 1849.9,176.9 1851.9,176.9 1853.9,176.8 1855.9,176.8 1857.9,176.8 1859.9,176.7 1861.9,176.7 1863.9,176.6 1865.9,176.6 1867.9,176.6 1869.9,176.5 1871.9,176.5 1873.9,176.5 1875.9,176.4 1877.9,176.4 1879.9,176.4 1881.9,176.3 1883.9,176.3 1885.9,176.3 1887.9,176.2 1889.9,176.2 1891.9,176.1 1893.9,176.1 1895.9,176.1 1897.9,176.0 1899.9,176.0 1901.9,176.0 1903.9,175.9 1905.9,175.9 1907.9,175.8 1909.9,175.8 1911.9,175.8 1913.9,175.7 1915.9,175.7 1917.9,175.6 1919.9,175.6 1921.9,175.6 1923.9,175.5 1925.9,175.5 1927.9,175.4 1929.9,175.4 1931.9,175.4 1933.9,175.3 1935.9,175.3 1937.9,175.2 1939.9,175.2 1941.9,175.2 1943.9,175.1 1945.9,175.1 1947.9,175.0 1949.9,175.0 1951.9,175.0 1953.9,174.9 1955.9,174.9 1957.9,174.8 1959.9,174.8 1961.9,174.8 1963.9,174.7 1965.9,174.7 1967.9,174.6 1969.9,174.6 1971.9,174.6 1973.9,174.5 1975.9,174.5 1977.9,174.4 1979.9,174.4 1981.9,174.4 1983.9,174.3 1985.9,174.3 1987.9,174.2 1989.9,174.2 1991.9,174.2 1993.9,174.1 1995.9,174.1 1997.9,174.0 1999.9,174.0 2001.9,174.0 2003.9,174.0 2005.9,173.9 2007.9,173.9 2009.9,173.9 2011.9,173.9 2013.9,173.9 2015.9,173.8 2017.9,173.8 2019.9,173.8 2021.9,173.8 2023.9,173.8 2025.9,173.7 2027.9,173.7 2029.9,173.7 2031.9,173.7 2033.9,173.7 2035.9,173.6 2037.9,173.6 2039.9,173.6 2041.9,173.6 2043.9,173.6 2045.9,173.5 2047.8,173.5 2049.1,173.5 2050.0,173.5" fill="none" stroke="#ff0000" stroke-width="7" stroke-linejoin="round" stroke-linecap="round"/>
<path d="M300.0,1325.0 302.2,1325.0 304.0,1325.0 306.0,1325.0 308.0,1325.0 310.0,1325.0 312.0,1325.0 314.0,1325.0 316.0,1325.0 318.0,1325.0 320.0,1325.0 322.0,1325.0 324.0,1325.0 326.0,1325.0 328.0,1325.0 330.0,1325.0 332.0,1325.0 334.0,1325.0 336.0,1325.0 338.0,1325.0 340.0,1325.0 342.0,1325.0 344.0,1325.0 346.0,1325.0 348.0,1324.9 350.0,1324.9 352.0,1324.9 354.0,1324.9 356.0,1324.9 358.0,1324.9 360.0,1324.9 362.0,1324.9 364.0,1324.9 366.0,1324.9 368.0,1324.9 370.0,1324.9 372.0,1324.9 374.0,1324.9 376.0,1324.9 378.0,1324.9 380.0,1324.9 382.0,1324.9 384.0,1324.9 386.0,1324.9 388.0,1324.9 390.0,1324.9 392.0,1324.9 394.0,1324.9 396.0,1324.9 398.0,1324.9 400.0,1324.9 402.0,1324.9 404.0,1324.9 406.0,1324.9 408.0,1324.9 410.0,1324.9 412.0,1324.9 414.0,1324.9 416.0,1324.9 418.0,1324.9 420.0,1324.9 422.0,1324.9 424.0,1324.9 426.0,1324.9 428.0,1324.9 430.0,1324.9 432.0,1324.9 434.0,1324.9 436.0,1324.9 438.0,1324.9 440.0,1324.9 442.0,1324.9 444.0,1324.8 446.0,1324.8 448.0,1324.8 450.0,1324.8 452.0,1324.8 454.0,1324.8 456.0,1324.8 458.0,1324.8 460.0,1324.8 462.0,1324.8 464.0,1324.8 466.0,1324.8 468.0,1324.8 470.0,1324.8 472.0,1324.8 474.0,1324.8 476.0,1324.8 478.0,1324.8 480.0,1324.8 482.0,1324.8 484.0,1324.8 486.0,1324.8 488.0,1324.8 490.0,1324.7 492.0,1324.6 494.0,1324.5 496.0,1324.3 498.0,1324.1 500.0,1323.9 502.0,1323.7 503.9,1323.5 505.9,1323.2 507.9,1322.8 509.8,1322.4 511.8,1321.9 513.7,1321.5 515.7,1321.0 517.6,1320.6 519.5,1320.1 521.5,1319.5 523.4,1318.9 525.2,1318.2 527.0,1317.5 528.8,1316.5 530.4,1315.5 532.1,1314.4 533.6,1313.2 535.1,1312.0 536.5,1310.6 537.9,1309.3 539.2,1307.8 540.5,1306.3 541.7,1304.8 542.9,1303.2 544.1,1301.6 545.2,1300.0 546.2,1298.3 547.3,1296.6 548.3,1294.9 549.3,1293.2 550.2,1291.4 551.1,1289.7 552.0,1287.9 552.9,1286.1 553.8,1284.3 554.6,1282.5 555.5,1280.7 556.3,1278.9 557.1,1277.0 557.8,1275.2 558.6,1273.3 559.4,1271.5 560.1,1269.6 560.8,1267.8 561.5,1265.9 562.2,1264.0 562.9,1262.2 563.6,1260.3 564.3,1258.4 564.9,1256.5 565.5,1254.6 566.2,1252.7 566.8,1250.8 567.4,1248.9 568.0,1247.0 568.5,1245.1 569.1,1243.2 569.7,1241.2 570.2,1239.3 570.8,1237.4 571.3,1235.5 571.8,1233.5 572.3,1231.6 572.8,1229.7 573.3,1227.7 573.8,1225.8 574.3,1223.9 574.8,1221.9 575.2,1220.0 575.7,1218.0 576.2,1216.1 576.6,1214.1 577.1,1212.2 577.5,1210.2 578.0,1208.3 578.5,1206.3 578.9,1204.4 579.4,1202.5 579.8,1200.5 580.3,1198.6 580.7,1196.6 581.2,1194.7 581.6,1192.7 582.1,1190.8 582.5,1188.8 583.0,1186.9 583.4,1184.9 583.9,1183.0 584.3,1181.0 584.8,1179.1 585.2,1177.1 585.6,1175.2 586.1,1173.2 586.5,1171.3 586.9,1169.3 587.4,1167.4 587.8,1165.4 588.3,1163.5 588.7,1161.5 589.1,1159.5 589.6,1157.6 590.0,1155.6 590.4,1153.7 590.9,1151.7 591.3,1149.8 591.7,1147.8 592.2,1145.9 592.6,1143.9 593.1,1142.0 593.5,1140.0 593.9,1138.1 594.4,1136.1 594.8,1134.2 595.2,1132.2 595.7,1130.3 596.1,1128.3 596.5,1126.4 596.9,1124.4 597.4,1122.5 597.8,1120.5 598.2,1118.5 598.6,1116.6 599.0,1114.6 599.4,1112.7 599.8,1110.7 600.2,1108.7 600.6,1106.8 601.0,1104.8 601.4,1102.9 601.8,1100.9 602.2,1098.9 602.6,1097.0 603.0,1095.0 603.4,1093.1 603.8,1091.1 604.1,1089.1 604.5,1087.2 604.9,1085.2 605.3,1083.2 605.6,1081.3 606.0,1079.3 606.4,1077.3 606.7,1075.4 607.1,1073.4 607.5,1071.4 607.8,1069.5 608.2,1067.5 608.5,1065.5 608.9,1063.6 609.2,1061.6 609.6,1059.6 609.9,1057.7 610.2,1055.7 610.6,1053.7 610.9,1051.7 611.3,1049.8 611.6,1047.8 611.9,1045.8 612.3,1043.9 612.6,1041.9 612.9,1039.9 613.2,1037.9 613.5,1036.0 613.8,1034.0 614.2,1032.0 614.5,1030.0 614.8,1028.1 615.1,1026.1 615.4,1024.1 615.7,1022.1 616.0,1020.2 616.3,1018.2 616.6,1016.2 616.9,1014.2 617.2,1012.2 617.5,1010.3 617.8,1008.3 618.1,1006.3 618.5,1004.3 618.8,1002.4 619.1,1000.4 619.5,998.4 619.8,996.5 620.1,994.5 620.5,992.5 620.8,990.6 621.2,988.6 621.6,986.6 621.9,984.7 622.3,982.7 622.7,980.7 623.0,978.8 623.4,976.8 623.8,974.8 624.1,972.9 624.5,970.9 624.9,968.9 625.3,967.0 625.6,965.0 626.0,963.0 626.4,961.1 626.8,959.1 627.1,957.1 627.5,955.2 627.9,953.2 628.3,951.3 628.7,949.3 629.1,947.3 629.5,945.4 629.9,943.4 630.3,941.5 630.7,939.5 631.1,937.5 631.5,935.6 631.9,933.6 632.4,931.7 632.8,929.7 633.2,927.8 633.7,925.8 634.1,923.9 634.5,921.9 634.9,920.0 635.4,918.0 635.8,916.1 636.2,914.1 636.7,912.1 637.1,910.2 637.5,908.2 637.9,906.3 638.3,904.3 638.7,902.4 639.1,900.4 639.5,898.4 639.8,896.5 640.2,894.5 640.6,892.5 641.0,890.6 641.3,888.6 641.7,886.6 642.0,884.7 642.4,882.7 642.7,880.7 643.1,878.8 643.4,876.8 643.8,874.8 644.2,872.9 644.5,870.9 644.9,868.9 645.3,867.0 645.6,865.0 646.0,863.0 646.4,861.1 646.8,859.1 647.2,857.2 647.6,855.2 648.0,853.3 648.5,851.3 648.9,849.3 649.3,847.4 649.7,845.4 650.2,843.5 650.6,841.5 651.0,839.6 651.5,837.6 651.9,835.7 652.4,833.7 652.8,831.8 653.2,829.8 653.7,827.9 654.1,825.9 654.6,824.0 655.0,822.0 655.4,820.1 655.9,818.1 656.3,816.2 656.8,814.2 657.2,812.3 657.6,810.3 658.1,808.4 658.5,806.4 659.0,804.5 659.4,802.5 659.8,800.6 660.3,798.6 660.7,796.7 661.2,794.7 661.6,792.8 662.1,790.8 662.5,788.9 663.0,786.9 663.5,785.0 664.0,783.0 664.4,781.1 664.9,779.2 665.4,777.2 665.9,775.3 666.4,773.4 667.0,771.4 667.5,769.5 668.0,767.6 668.5,765.6 669.0,763.7 669.6,761.8 670.1,759.8 670.7,757.9 671.2,756.0 671.7,754.1 672.3,752.2 672.8,750.2 673.4,748.3 674.0,746.4 674.6,744.5 675.1,742.6 675.7,740.7 676.4,738.8 677.0,736.9 677.6,735.0 678.2,733.1 678.9,731.2 679.5,729.3 680.1,727.4 680.8,725.5 681.5,723.6 682.1,721.7 682.8,719.8 683.5,717.9 684.1,716.1 684.8,714.2 685.5,712.3 686.2,710.4 686.9,708.6 687.6,706.7 688.3,704.8 689.0,703.0 689.8,701.1 690.5,699.3 691.3,697.4 692.1,695.6 692.8,693.7 693.6,691.9 694.4,690.1 695.2,688.2 696.0,686.4 696.9,684.6 697.7,682.7 698.5,680.9 699.3,679.1 700.1,677.3 700.9,675.4 701.7,673.6 702.5,671.8 703.4,670.0 704.2,668.1 705.0,666.3 705.7,664.4 706.5,662.6 707.3,660.8 708.1,658.9 708.8,657.1 709.6,655.2 710.4,653.4 711.1,651.5 711.9,649.7 712.6,647.8 713.3,646.0 714.1,644.1 714.8,642.2 715.6,640.4 716.3,638.5 717.0,636.7 717.8,634.8 718.5,632.9 719.3,631.1 720.0,629.2 720.7,627.4 721.5,625.5 722.2,623.7 723.0,621.8 723.7,620.0 724.5,618.1 725.2,616.3 726.0,614.4 726.8,612.6 727.6,610.7 728.4,608.9 729.2,607.1 730.0,605.3 730.9,603.5 731.7,601.7 732.6,599.9 733.5,598.1 734.4,596.3 735.3,594.5 736.3,592.8 737.2,591.0 738.2,589.2 739.1,587.5 740.1,585.7 741.0,584.0 742.0,582.2 742.9,580.5 743.9,578.7 744.9,577.0 745.9,575.2 746.8,573.5 747.8,571.7 748.8,570.0 749.8,568.2 750.8,566.5 751.7,564.8 752.7,563.0 753.7,561.3 754.7,559.6 755.8,557.8 756.8,556.1 757.8,554.4 758.8,552.7 759.8,551.0 760.9,549.2 761.9,547.5 762.9,545.8 763.9,544.1 765.0,542.4 766.0,540.7 767.1,539.0 768.1,537.3 769.2,535.6 770.2,533.9 771.3,532.2 772.4,530.5 773.5,528.9 774.6,527.2 775.7,525.6 776.9,523.9 778.0,522.3 779.2,520.7 780.5,519.2 781.7,517.6 783.0,516.0 784.2,514.5 785.5,513.0 786.8,511.4 788.1,509.9 789.4,508.4 790.7,506.9 792.0,505.4 793.3,503.9 794.6,502.3 795.9,500.8 797.2,499.3 798.6,497.8 799.9,496.3 801.2,494.8 802.6,493.3 803.9,491.9 805.2,490.4 806.6,488.9 807.9,487.4 809.3,486.0 810.6,484.5 812.0,483.0 813.3,481.5 814.7,480.0 816.0,478.6 817.3,477.1 818.7,475.6 820.0,474.1 821.2,472.5 822.5,471.0 823.8,469.4 825.0,467.9 826.3,466.3 827.5,464.8 828.7,463.2 830.0,461.6 831.2,460.1 832.5,458.5 833.7,457.0 835.0,455.4 836.3,453.9 837.5,452.4 838.8,450.8 840.1,449.3 841.3,447.7 842.6,446.1 843.8,444.6 845.0,443.0 846.2,441.4 847.5,439.8 848.7,438.3 849.9,436.7 851.1,435.1 852.4,433.6 853.6,432.0 854.9,430.5 856.2,429.0 857.6,427.6 858.9,426.1 860.3,424.7 861.8,423.4 863.3,422.0 864.7,420.7 866.2,419.4 867.7,418.1 869.2,416.8 870.7,415.4 872.2,414.1 873.7,412.7 875.1,411.4 876.6,410.0 878.0,408.6 879.5,407.2 880.9,405.9 882.4,404.5 883.9,403.2 885.3,401.8 886.8,400.5 888.4,399.2 889.9,397.9 891.4,396.7 893.0,395.4 894.6,394.2 896.2,393.0 897.8,391.8 899.4,390.7 901.1,389.5 902.7,388.4 904.4,387.3 906.0,386.2 907.7,385.1 909.3,384.0 910.9,382.8 912.5,381.6 914.0,380.3 915.5,379.0 917.0,377.7 918.5,376.4 920.0,375.0 921.4,373.7 922.9,372.3 924.4,371.0 925.8,369.7 927.3,368.3 928.8,367.0 930.3,365.8 931.9,364.5 933.5,363.3 935.1,362.2 936.7,361.0 938.4,359.9 940.1,358.9 941.8,357.8 943.4,356.7 945.1,355.6 946.8,354.5 948.4,353.3 950.0,352.2 951.6,351.0 953.2,349.8 954.8,348.6 956.4,347.4 958.0,346.1 959.6,344.9 961.1,343.7 962.7,342.5 964.3,341.3 965.9,340.2 967.6,339.0 969.2,337.9 970.9,336.9 972.6,335.9 974.4,335.0 976.2,334.1 978.0,333.3 979.8,332.5 981.6,331.7 983.4,330.9 985.2,330.0 987.0,329.1 988.8,328.2 990.6,327.3 992.4,326.4 994.1,325.4 995.9,324.5 997.6,323.5 999.4,322.6 1001.2,321.6 1002.9,320.6 1004.7,319.7 1006.4,318.7 1008.2,317.7 1009.9,316.8 1011.6,315.8 1013.4,314.8 1015.1,313.9 1016.9,312.9 1018.7,311.9 1020.4,311.0 1022.2,310.1 1024.0,309.2 1025.8,308.3 1027.6,307.4 1029.4,306.6 1031.2,305.9 1033.1,305.2 1035.0,304.5 1036.9,303.9 1038.8,303.3 1040.7,302.7 1042.6,302.1 1044.5,301.5 1046.4,300.9 1048.3,300.3 1050.2,299.7 1052.0,298.9 1053.8,298.1 1055.6,297.2 1057.3,296.2 1059.0,295.3 1060.7,294.3 1062.4,293.3 1064.1,292.4 1065.8,291.4 1067.5,290.5 1069.3,289.8 1071.2,289.3 1073.1,288.9 1075.1,288.6 1077.1,288.3 1079.0,288.0 1081.0,287.7 1082.9,287.2 1084.8,286.6 1086.6,285.9 1088.4,285.0 1090.1,284.1 1091.9,283.2 1093.6,282.2 1095.3,281.2 1097.1,280.2 1098.8,279.2 1100.5,278.2 1102.3,277.2 1104.0,276.3 1105.7,275.3 1107.5,274.3 1109.3,273.4 1111.1,272.5 1112.8,271.6 1114.6,270.7 1116.4,269.9 1118.2,269.0 1120.0,268.2 1121.9,267.4 1123.7,266.6 1125.6,266.0 1127.5,265.4 1129.4,264.9 1131.4,264.5 1133.3,264.1 1135.3,263.7 1137.2,263.2 1139.2,262.8 1141.1,262.4 1143.0,261.9 1144.9,261.3 1146.7,260.5 1148.5,259.7 1150.2,258.7 1151.9,257.7 1153.6,256.8 1155.3,255.8 1157.0,254.8 1158.7,253.9 1160.4,253.0 1162.2,252.2 1164.0,251.5 1165.9,251.1 1167.9,250.7 1169.9,250.4 1171.8,250.0 1173.8,249.7 1175.8,249.4 1177.7,249.0 1179.7,248.7 1181.7,248.2 1183.6,247.7 1185.5,247.1 1187.3,246.5 1189.2,245.8 1191.1,245.1 1192.9,244.3 1194.8,243.6 1196.6,242.8 1198.5,242.1 1200.4,241.4 1202.2,240.7 1204.1,240.1 1206.0,239.5 1207.9,239.1 1209.9,238.8 1211.9,238.7 1213.9,238.6 1215.9,238.5 1217.9,238.4 1219.9,238.3 1221.9,238.2 1223.9,238.1 1225.9,238.0 1227.9,237.8 1229.9,237.7 1231.9,237.6 1233.9,237.5 1235.8,237.4 1237.8,237.3 1239.7,236.9 1241.2,236.2 1242.7,235.2 1244.1,234.3 1245.5,233.3 1247.0,232.4 1248.4,231.5 1249.8,230.5 1251.2,229.6 1253.0,229.1 1254.9,229.0 1256.9,229.0 1258.9,229.0 1260.9,229.0 1262.9,229.0 1264.9,229.0 1266.9,229.0 1268.9,229.0 1270.9,228.9 1272.7,228.6 1274.3,227.9 1275.9,227.1 1277.4,226.3 1279.0,225.4 1280.6,224.6 1282.2,223.8 1283.8,223.1 1285.7,222.8 1287.7,222.7 1289.7,222.6 1291.7,222.5 1293.7,222.4 1295.7,222.3 1297.6,222.1 1299.6,221.8 1301.4,221.4 1303.2,220.8 1305.0,220.2 1306.9,219.7 1308.7,219.3 1310.7,219.2 1312.7,219.2 1314.7,219.3 1316.7,219.3 1318.7,219.4 1320.7,219.4 1322.7,219.5 1324.7,219.5 1326.7,219.6 1328.7,219.7 1330.6,219.7 1332.6,219.8 1334.6,219.8 1336.6,219.9 1338.6,219.9 1340.6,219.9 1342.6,219.8 1344.6,219.7 1346.6,219.5 1348.6,219.4 1350.6,219.2 1352.6,219.1 1354.6,219.0 1356.6,218.8 1358.6,218.7 1360.6,218.5 1362.6,218.3 1364.4,217.9 1366.2,217.3 1367.8,216.6 1369.5,215.8 1371.1,215.0 1372.8,214.2 1374.4,213.5 1376.2,213.1 1378.2,213.0 1380.2,213.0 1382.2,213.0 1384.2,213.0 1386.2,213.0 1388.2,213.0 1390.2,213.0 1392.2,213.0 1394.2,213.0 1396.2,213.0 1398.2,213.0 1400.2,212.9 1402.2,212.8 1404.2,212.6 1406.1,212.4 1408.1,212.3 1410.1,212.1 1412.1,211.9 1414.1,211.7 1416.1,211.5 1418.1,211.4 1420.1,211.2 1422.1,211.0 1424.1,210.8 1426.1,210.6 1428.1,210.4 1430.0,210.2 1432.0,210.0 1434.0,209.8 1436.0,209.6 1438.0,209.4 1440.0,209.2 1442.0,209.0 1444.0,208.8 1446.0,208.6 1448.0,208.4 1449.9,208.2 1451.9,208.0 1453.9,207.8 1455.9,207.6 1457.9,207.4 1459.9,207.2 1461.9,207.0 1463.9,206.8 1465.9,206.6 1467.9,206.4 1469.8,206.2 1471.8,206.0 1473.8,205.8 1475.8,205.6 1477.8,205.4 1479.8,205.2 1481.8,205.1 1483.8,205.0 1485.8,205.0 1487.8,205.0 1489.8,205.0 1491.8,205.0 1493.8,205.0 1495.8,205.0 1497.8,205.0 1499.8,205.0 1501.8,205.0 1503.8,205.0 1505.8,205.0 1507.8,205.0 1509.8,205.0 1511.8,205.0 1513.8,205.0 1515.8,205.0 1517.8,205.0 1519.8,205.0 1521.8,205.0 1523.8,205.1 1525.8,205.3 1527.8,205.4 1529.8,205.5 1531.8,205.7 1533.8,205.8 1535.8,205.9 1537.7,206.0 1539.7,206.2 1541.7,206.3 1543.7,206.4 1545.7,206.6 1547.7,206.7 1549.7,206.8 1551.7,206.8 1553.7,206.7 1555.7,206.5 1557.7,206.2 1559.6,206.0 1561.6,205.7 1563.6,205.5 1565.6,205.2 1567.6,204.9 1569.6,204.7 1571.5,204.4 1573.5,204.1 1575.5,203.9 1577.5,203.6 1579.5,203.4 1581.5,203.1 1583.5,203.0 1585.4,202.8 1587.4,202.7 1589.4,202.6 1591.4,202.5 1593.4,202.4 1595.4,202.3 1597.4,202.2 1599.4,202.1 1601.4,202.0 1603.4,201.9 1605.4,201.8 1607.4,201.7 1609.4,201.6 1611.4,201.5 1613.4,201.4 1615.4,201.3 1617.4,201.2 1619.4,201.1 1621.4,201.0 1623.4,200.9 1625.4,200.8 1627.4,200.7 1629.4,200.6 1631.4,200.5 1633.4,200.4 1635.4,200.3 1637.4,200.2 1639.4,200.1 1641.4,200.0 1643.4,199.9 1645.4,199.8 1647.4,199.7 1649.4,199.6 1651.4,199.5 1653.4,199.4 1655.4,199.3 1657.4,199.2 1659.4,199.1 1661.3,199.0 1663.3,198.9 1665.3,198.8 1667.3,198.7 1669.3,198.6 1671.3,198.5 1673.3,198.4 1675.3,198.3 1677.3,198.2 1679.3,198.1 1681.3,198.0 1683.3,197.9 1685.3,197.8 1687.3,197.7 1689.3,197.6 1691.3,197.5 1693.3,197.4 1695.3,197.3 1697.3,197.2 1699.3,197.1 1701.3,197.1 1703.3,197.1 1705.3,197.2 1707.3,197.3 1709.3,197.4 1711.3,197.5 1713.3,197.6 1715.3,197.7 1717.3,197.8 1719.3,197.8 1721.3,197.8 1723.2,197.6 1725.2,197.3 1727.2,196.9 1729.1,196.6 1731.1,196.2 1733.1,195.8 1735.0,195.4 1737.0,195.0 1738.9,194.6 1740.9,194.2 1742.9,193.8 1744.8,193.4 1746.8,193.1 1748.7,192.7 1750.7,192.4 1752.7,192.2 1754.7,192.1 1756.7,192.2 1758.7,192.2 1760.7,192.3 1762.7,192.4 1764.7,192.4 1766.7,192.5 1768.7,192.6 1770.7,192.6 1772.7,192.7 1774.7,192.8 1776.7,192.8 1778.7,192.9 1780.7,192.9 1782.7,192.9 1784.7,192.9 1786.7,192.8 1788.7,192.7 1790.7,192.6 1792.6,192.5 1794.6,192.4 1796.6,192.3 1798.6,192.2 1800.6,192.1 1802.6,192.0 1804.6,191.9 1806.6,191.8 1808.6,191.7 1810.6,191.6 1812.6,191.5 1814.6,191.4 1816.6,191.3 1818.6,191.2 1820.6,191.1 1822.6,191.1 1824.6,191.1 1826.6,191.1 1828.6,191.2 1830.6,191.2 1832.6,191.3 1834.6,191.3 1836.6,191.4 1838.6,191.4 1840.6,191.5 1842.6,191.5 1844.6,191.6 1846.6,191.6 1848.6,191.7 1850.6,191.8 1852.6,191.8 1854.6,191.9 1856.6,191.9 1858.6,192.0 1860.6,192.0 1862.6,192.0 1864.6,192.0 1866.6,192.0 1868.6,192.0 1870.6,192.0 1872.6,191.9 1874.6,191.9 1876.6,191.9 1878.6,191.9 1880.6,191.9 1882.6,191.9 1884.6,191.9 1886.6,191.9 1888.6,191.9 1890.6,191.9 1892.6,191.9 1894.6,191.9 1896.6,191.9 1898.6,191.8 1900.6,191.8 1902.6,191.8 1904.6,191.8 1906.6,191.7 1908.5,191.4 1910.4,191.0 1912.3,190.4 1914.2,189.8 1916.1,189.1 1918.0,188.4 1919.9,187.8 1921.8,187.1 1923.6,186.4 1925.5,185.8 1927.4,185.3 1929.3,184.8 1931.2,184.5 1933.2,184.4 1935.2,184.5 1937.2,184.7 1939.2,184.9 1941.1,185.1 1943.1,185.3 1945.1,185.5 1947.1,185.7 1949.1,186.0 1951.1,186.3 1953.0,186.6 1955.0,187.0 1957.0,187.4 1958.9,187.8 1960.9,188.2 1962.8,188.6 1964.8,189.0 1966.8,189.4 1968.7,189.7 1970.7,190.1 1972.7,190.5 1974.6,190.8 1976.6,190.9 1978.6,191.0 1980.6,191.0 1982.6,191.0 1984.6,191.0 1986.6,191.0 1988.6,191.0 1990.6,191.0 1992.6,191.0 1994.6,191.0 1996.6,191.0 1998.6,191.0 2000.6,191.0 2002.6,190.9 2004.6,190.9 2006.6,190.9 2008.6,190.8 2010.6,190.8 2012.6,190.7 2014.6,190.7 2016.6,190.7 2018.6,190.6 2020.6,190.6 2022.6,190.5 2024.6,190.5 2026.6,190.5 2028.6,190.4 2030.6,190.4 2032.6,190.3 2034.6,190.3 2036.6,190.3 2038.6,190.2 2040.6,190.2 2042.6,190.1 2044.6,190.1 2046.6,190.1 2048.3,190.0 2050.0,190.0" fill="none" stroke="#0000ff" stroke-width="7" stroke-linejoin="round" stroke-linecap="round"/>
<path d="M300.0,1325.0 302.2,1325.0 304.0,1325.0 306.0,1325.0 308.0,1325.0 310.0,1325.0 312.0,1325.0 314.0,1325.0 316.0,1325.0 318.0,1325.0 320.0,1325.0 322.0,1325.0 324.0,1325.0 326.0,1325.0 328.0,1325.0 330.0,1325.0 332.0,1325.0 334.0,1325.0 336.0,1325.0 338.0,1325.0 340.0,1325.0 342.0,1325.0 344.0,1325.0 346.0,1325.0 348.0,1325.0 350.0,1325.0 352.0,1325.0 354.0,1324.9 356.0,1324.9 358.0,1324.9 360.0,1324.9 362.0,1324.9 364.0,1324.9 366.0,1324.9 368.0,1324.9 370.0,1324.9 372.0,1324.9 374.0,1324.9 376.0,1324.9 378.0,1324.9 380.0,1324.9 382.0,1324.9 384.0,1324.9 386.0,1324.9 388.0,1324.9 390.0,1324.9 392.0,1324.9 394.0,1324.9 396.0,1324.9 398.0,1324.9 400.0,1324.9 402.0,1324.9 404.0,1324.9 406.0,1324.9 408.0,1324.9 410.0,1324.9 412.0,1324.9 414.0,1324.9 416.0,1324.9 418.0,1324.9 420.0,1324.9 422.0,1324.9 424.0,1324.9 426.0,1324.9 428.0,1324.9 430.0,1324.9 432.0,1324.9 434.0,1324.9 436.0,1324.9 438.0,1324.9 440.0,1324.9 442.0,1324.9 444.0,1324.9 446.0,1324.9 448.0,1324.9 450.0,1324.9 452.0,1324.9 454.0,1324.9 456.0,1324.9 458.0,1324.8 460.0,1324.8 462.0,1324.8 464.0,1324.8 466.0,1324.8 468.0,1324.8 470.0,1324.8 472.0,1324.8 474.0,1324.8 476.0,1324.8 478.0,1324.8 480.0,1324.8 482.0,1324.8 484.0,1324.8 486.0,1324.8 488.0,1324.8 490.0,1324.8 492.0,1324.8 494.0,1324.8 496.0,1324.8 498.0,1324.8 500.0,1324.8 502.0,1324.8 504.0,1324.8 506.0,1324.8 508.0,1324.8 510.0,1324.6 512.0,1324.4 513.9,1324.0 515.9,1323.7 517.9,1323.3 519.8,1322.9 521.8,1322.6 523.8,1322.2 525.7,1321.8 527.7,1321.4 529.6,1320.9 531.5,1320.4 533.4,1319.8 535.3,1319.2 537.2,1318.6 539.1,1317.9 541.0,1317.3 542.9,1316.7 544.8,1316.0 546.7,1315.3 548.6,1314.7 550.5,1314.0 552.3,1313.3 554.2,1312.6 556.0,1311.8 557.8,1311.0 559.5,1310.0 561.1,1308.9 562.6,1307.7 564.1,1306.4 565.5,1305.1 566.9,1303.7 568.3,1302.3 569.6,1300.9 571.0,1299.4 572.3,1298.0 573.6,1296.5 574.9,1294.9 576.2,1293.4 577.4,1291.9 578.7,1290.3 579.9,1288.7 581.1,1287.2 582.3,1285.6 583.5,1284.0 584.7,1282.4 585.9,1280.8 587.1,1279.1 588.2,1277.5 589.4,1275.8 590.5,1274.2 591.6,1272.5 592.7,1270.9 593.8,1269.2 594.9,1267.5 596.0,1265.8 597.0,1264.1 598.1,1262.5 599.1,1260.8 600.2,1259.0 601.2,1257.3 602.2,1255.6 603.3,1253.9 604.3,1252.2 605.3,1250.5 606.3,1248.7 607.3,1247.0 608.3,1245.2 609.2,1243.5 610.2,1241.8 611.2,1240.0 612.1,1238.2 613.1,1236.5 614.0,1234.7 614.9,1232.9 615.9,1231.2 616.8,1229.4 617.7,1227.6 618.6,1225.9 619.5,1224.1 620.4,1222.3 621.3,1220.5 622.2,1218.7 623.1,1216.9 624.0,1215.1 624.9,1213.4 625.8,1211.6 626.7,1209.8 627.6,1208.0 628.5,1206.2 629.4,1204.4 630.3,1202.6 631.2,1200.8 632.1,1199.0 633.0,1197.2 633.9,1195.5 634.8,1193.7 635.7,1191.9 636.6,1190.1 637.5,1188.4 638.5,1186.6 639.4,1184.8 640.4,1183.1 641.3,1181.3 642.3,1179.6 643.3,1177.8 644.2,1176.1 645.2,1174.4 646.2,1172.6 647.2,1170.9 648.2,1169.1 649.1,1167.4 650.1,1165.6 651.0,1163.9 651.9,1162.1 652.8,1160.3 653.6,1158.5 654.5,1156.7 655.3,1154.9 656.1,1153.0 656.9,1151.2 657.6,1149.4 658.4,1147.5 659.2,1145.7 659.9,1143.8 660.7,1142.0 661.4,1140.1 662.2,1138.3 662.9,1136.4 663.7,1134.6 664.4,1132.7 665.1,1130.8 665.9,1129.0 666.6,1127.1 667.4,1125.3 668.1,1123.4 668.9,1121.6 669.6,1119.7 670.4,1117.8 671.1,1116.0 671.9,1114.1 672.6,1112.3 673.4,1110.4 674.1,1108.6 674.9,1106.7 675.7,1104.9 676.4,1103.1 677.2,1101.2 678.0,1099.4 678.8,1097.5 679.6,1095.7 680.4,1093.9 681.2,1092.0 682.0,1090.2 682.8,1088.4 683.6,1086.5 684.4,1084.7 685.2,1082.9 686.0,1081.1 686.8,1079.2 687.6,1077.4 688.4,1075.6 689.2,1073.7 690.0,1071.9 690.8,1070.0 691.6,1068.2 692.3,1066.4 693.1,1064.5 693.9,1062.7 694.6,1060.8 695.4,1059.0 696.1,1057.1 696.9,1055.2 697.6,1053.4 698.4,1051.5 699.1,1049.7 699.8,1047.8 700.6,1046.0 701.3,1044.1 702.0,1042.2 702.8,1040.4 703.5,1038.5 704.2,1036.6 704.9,1034.8 705.6,1032.9 706.3,1031.0 707.0,1029.2 707.8,1027.3 708.5,1025.4 709.2,1023.5 709.9,1021.7 710.6,1019.8 711.3,1017.9 712.0,1016.1 712.7,1014.2 713.4,1012.3 714.1,1010.5 714.9,1008.6 715.6,1006.7 716.3,1004.9 717.1,1003.0 717.8,1001.2 718.6,999.3 719.3,997.5 720.1,995.6 720.9,993.8 721.7,992.0 722.5,990.1 723.3,988.3 724.1,986.5 724.9,984.6 725.7,982.8 726.5,981.0 727.4,979.2 728.2,977.3 729.0,975.5 729.8,973.7 730.6,971.8 731.4,970.0 732.3,968.2 733.1,966.4 733.9,964.6 734.7,962.7 735.5,960.9 736.4,959.1 737.2,957.3 738.0,955.4 738.8,953.6 739.7,951.8 740.5,950.0 741.3,948.2 742.2,946.4 743.0,944.5 743.9,942.7 744.8,940.9 745.6,939.1 746.5,937.3 747.4,935.6 748.3,933.8 749.2,932.0 750.1,930.2 751.0,928.4 751.9,926.6 752.8,924.8 753.7,923.0 754.6,921.3 755.5,919.5 756.4,917.7 757.3,915.9 758.1,914.1 759.0,912.3 759.9,910.5 760.7,908.7 761.6,906.9 762.4,905.1 763.3,903.2 764.1,901.4 764.9,899.6 765.7,897.8 766.6,896.0 767.4,894.1 768.2,892.3 769.0,890.5 769.8,888.7 770.6,886.8 771.5,885.0 772.3,883.2 773.1,881.4 773.9,879.5 774.7,877.7 775.5,875.9 776.3,874.0 777.2,872.2 778.0,870.4 778.8,868.6 779.6,866.7 780.4,864.9 781.2,863.1 782.0,861.3 782.8,859.4 783.7,857.6 784.5,855.8 785.3,853.9 786.1,852.1 786.9,850.3 787.7,848.5 788.5,846.6 789.3,844.8 790.1,843.0 790.9,841.1 791.7,839.3 792.5,837.5 793.3,835.6 794.1,833.8 794.9,832.0 795.7,830.1 796.5,828.3 797.2,826.4 798.0,824.6 798.8,822.7 799.5,820.9 800.3,819.0 801.0,817.2 801.8,815.3 802.5,813.5 803.3,811.6 804.0,809.8 804.8,807.9 805.6,806.1 806.3,804.2 807.1,802.4 807.9,800.5 808.7,798.7 809.5,796.9 810.3,795.1 811.1,793.2 812.0,791.4 812.8,789.6 813.7,787.8 814.5,786.0 815.4,784.2 816.3,782.4 817.1,780.6 818.0,778.8 818.9,777.0 819.8,775.2 820.7,773.4 821.6,771.6 822.4,769.8 823.3,768.0 824.2,766.2 825.0,764.4 825.9,762.6 826.7,760.8 827.6,759.0 828.4,757.2 829.2,755.3 830.0,753.5 830.8,751.7 831.6,749.9 832.4,748.0 833.2,746.2 834.0,744.4 834.8,742.5 835.6,740.7 836.4,738.9 837.2,737.0 838.1,735.2 838.9,733.4 839.7,731.6 840.6,729.8 841.5,728.0 842.4,726.2 843.3,724.4 844.2,722.7 845.2,720.9 846.1,719.1 847.0,717.4 848.0,715.6 849.0,713.9 849.9,712.1 850.9,710.4 851.8,708.6 852.8,706.9 853.8,705.1 854.8,703.4 855.7,701.6 856.7,699.9 857.7,698.1 858.6,696.4 859.6,694.6 860.6,692.9 861.5,691.1 862.5,689.4 863.4,687.6 864.4,685.8 865.4,684.1 866.3,682.3 867.2,680.6 868.2,678.8 869.1,677.0 870.1,675.3 871.0,673.5 871.9,671.7 872.8,669.9 873.8,668.2 874.7,666.4 875.6,664.6 876.5,662.8 877.4,661.1 878.3,659.3 879.2,657.5 880.2,655.7 881.1,654.0 882.0,652.2 882.9,650.4 883.8,648.6 884.8,646.8 885.7,645.1 886.6,643.3 887.6,641.5 888.5,639.8 889.4,638.0 890.4,636.3 891.4,634.5 892.3,632.8 893.3,631.0 894.3,629.3 895.3,627.6 896.3,625.8 897.3,624.1 898.3,622.4 899.3,620.6 900.3,618.9 901.4,617.2 902.4,615.5 903.4,613.7 904.4,612.0 905.4,610.3 906.4,608.6 907.4,606.8 908.4,605.1 909.4,603.4 910.4,601.6 911.4,599.9 912.4,598.2 913.4,596.4 914.4,594.7 915.4,593.0 916.4,591.2 917.3,589.5 918.3,587.7 919.3,586.0 920.3,584.3 921.3,582.5 922.3,580.8 923.3,579.1 924.3,577.3 925.3,575.6 926.4,573.9 927.4,572.2 928.5,570.5 929.5,568.8 930.6,567.1 931.7,565.4 932.8,563.8 933.9,562.1 935.0,560.4 936.1,558.8 937.2,557.1 938.3,555.4 939.4,553.8 940.6,552.1 941.7,550.5 942.8,548.9 944.0,547.2 945.2,545.6 946.3,544.0 947.5,542.4 948.7,540.8 949.9,539.2 951.1,537.6 952.4,536.0 953.6,534.4 954.8,532.9 956.0,531.3 957.3,529.7 958.5,528.1 959.7,526.5 960.9,525.0 962.2,523.4 963.4,521.8 964.6,520.2 965.9,518.6 967.1,517.1 968.3,515.5 969.5,513.9 970.7,512.3 971.9,510.7 973.2,509.1 974.4,507.5 975.6,505.9 976.8,504.4 978.0,502.8 979.2,501.2 980.4,499.6 981.7,498.0 982.9,496.4 984.1,494.8 985.3,493.2 986.5,491.6 987.7,490.0 988.9,488.5 990.1,486.9 991.4,485.3 992.6,483.7 993.8,482.1 995.0,480.5 996.2,478.9 997.4,477.3 998.7,475.8 999.9,474.2 1001.1,472.6 1002.4,471.0 1003.6,469.5 1004.9,467.9 1006.1,466.4 1007.4,464.8 1008.7,463.3 1010.0,461.8 1011.3,460.3 1012.6,458.7 1013.9,457.2 1015.2,455.7 1016.5,454.2 1017.9,452.7 1019.2,451.3 1020.5,449.8 1021.9,448.3 1023.3,446.9 1024.6,445.4 1026.0,444.0 1027.4,442.6 1028.9,441.2 1030.3,439.8 1031.8,438.5 1033.3,437.2 1034.8,435.9 1036.3,434.6 1037.7,433.2 1039.2,431.9 1040.6,430.5 1042.0,429.1 1043.4,427.6 1044.7,426.2 1046.1,424.7 1047.4,423.2 1048.7,421.7 1050.0,420.2 1051.3,418.7 1052.7,417.2 1054.0,415.7 1055.3,414.2 1056.6,412.7 1058.0,411.2 1059.3,409.7 1060.6,408.3 1062.0,406.8 1063.3,405.3 1064.7,403.8 1066.1,402.4 1067.4,400.9 1068.8,399.5 1070.2,398.0 1071.6,396.6 1073.0,395.2 1074.4,393.7 1075.8,392.3 1077.2,390.9 1078.7,389.6 1080.1,388.2 1081.6,386.9 1083.1,385.5 1084.6,384.2 1086.1,382.9 1087.6,381.6 1089.1,380.2 1090.6,378.9 1092.1,377.6 1093.6,376.3 1095.1,375.0 1096.6,373.6 1098.0,372.3 1099.5,370.9 1101.0,369.5 1102.4,368.2 1103.9,366.8 1105.3,365.4 1106.7,364.0 1108.2,362.6 1109.6,361.3 1111.1,360.0 1112.6,358.6 1114.1,357.3 1115.6,356.1 1117.2,354.9 1118.8,353.7 1120.4,352.6 1122.1,351.6 1123.9,350.7 1125.6,349.8 1127.4,348.9 1129.2,348.1 1131.0,347.2 1132.8,346.2 1134.5,345.3 1136.2,344.2 1137.9,343.2 1139.5,342.1 1141.2,340.9 1142.8,339.7 1144.4,338.5 1145.9,337.3 1147.5,336.1 1149.1,334.8 1150.6,333.5 1152.1,332.3 1153.6,331.0 1155.1,329.7 1156.7,328.4 1158.2,327.1 1159.7,325.9 1161.2,324.6 1162.8,323.4 1164.3,322.2 1165.9,321.1 1167.5,320.0 1169.2,319.1 1171.0,318.3 1172.8,317.8 1174.7,317.3 1176.6,316.7 1178.4,316.0 1180.2,315.2 1182.0,314.4 1183.7,313.5 1185.5,312.5 1187.2,311.6 1189.0,310.6 1190.7,309.6 1192.4,308.6 1194.2,307.7 1195.9,306.7 1197.7,305.8 1199.5,304.8 1201.2,303.9 1202.9,302.9 1204.6,301.8 1206.3,300.7 1207.8,299.6 1209.4,298.4 1210.9,297.1 1212.4,295.9 1213.9,294.6 1215.4,293.4 1217.0,292.2 1218.5,290.9 1220.0,289.7 1221.6,288.6 1223.2,287.5 1224.9,286.6 1226.7,285.8 1228.5,285.1 1230.4,284.4 1232.3,283.7 1234.2,283.0 1236.1,282.4 1238.0,281.7 1239.8,281.1 1241.7,280.4 1243.6,279.7 1245.5,279.1 1247.4,278.4 1249.3,277.7 1251.2,277.1 1253.1,276.4 1254.9,275.7 1256.8,275.0 1258.7,274.3 1260.5,273.6 1262.4,272.8 1264.2,272.0 1266.1,271.2 1267.9,270.4 1269.7,269.6 1271.5,268.8 1273.4,268.0 1275.2,267.2 1277.0,266.3 1278.8,265.5 1280.7,264.7 1282.5,263.9 1284.3,263.1 1286.1,262.2 1287.9,261.4 1289.8,260.6 1291.6,259.8 1293.4,259.0 1295.3,258.2 1297.1,257.4 1298.9,256.6 1300.8,255.8 1302.6,255.1 1304.5,254.4 1306.4,253.6 1308.2,252.9 1310.1,252.2 1312.0,251.5 1313.8,250.8 1315.7,250.1 1317.6,249.5 1319.5,248.8 1321.4,248.2 1323.3,247.6 1325.2,247.2 1327.2,246.9 1329.1,246.7 1331.1,246.6 1333.1,246.5 1335.1,246.4 1337.1,246.3 1339.1,246.2 1341.1,246.0 1343.0,245.6 1344.9,245.0 1346.7,244.3 1348.5,243.5 1350.3,242.7 1352.1,241.9 1353.9,241.0 1355.7,240.1 1357.5,239.2 1359.3,238.4 1361.1,237.5 1362.9,236.6 1364.7,235.8 1366.5,235.0 1368.4,234.2 1370.2,233.5 1372.1,232.8 1374.0,232.3 1375.9,231.8 1377.9,231.4 1379.9,231.0 1381.8,230.6 1383.8,230.2 1385.7,229.9 1387.7,229.5 1389.7,229.1 1391.6,228.7 1393.6,228.3 1395.6,227.9 1397.5,227.5 1399.5,227.2 1401.5,226.9 1403.5,226.7 1405.4,226.5 1407.4,226.3 1409.4,226.1 1411.4,226.0 1413.4,225.8 1415.4,225.6 1417.4,225.4 1419.4,225.2 1421.3,224.8 1423.3,224.4 1425.2,223.9 1427.1,223.4 1429.1,222.9 1431.0,222.3 1432.9,221.7 1434.8,221.2 1436.7,220.6 1438.7,220.1 1440.6,219.6 1442.5,219.1 1444.5,218.8 1446.5,218.5 1448.4,218.2 1450.4,217.9 1452.4,217.7 1454.4,217.5 1456.4,217.2 1458.4,217.0 1460.3,216.7 1462.3,216.5 1464.3,216.2 1466.3,216.0 1468.3,215.7 1470.3,215.5 1472.3,215.2 1474.2,215.0 1476.2,214.7 1478.2,214.4 1480.2,214.1 1482.1,213.7 1484.1,213.3 1486.0,212.7 1487.9,212.2 1489.8,211.6 1491.8,211.1 1493.7,210.5 1495.6,209.9 1497.5,209.4 1499.4,208.9 1501.4,208.5 1503.3,208.2 1505.3,208.0 1507.3,208.0 1509.3,208.0 1511.3,208.0 1513.3,208.0 1515.3,208.0 1517.3,208.0 1519.3,207.9 1521.2,207.7 1523.2,207.3 1525.1,206.8 1527.0,206.2 1528.9,205.6 1530.8,204.9 1532.7,204.3 1534.6,203.6 1536.5,203.0 1538.4,202.4 1540.3,201.8 1542.2,201.3 1544.1,200.9 1546.1,200.6 1548.1,200.4 1550.1,200.2 1552.1,200.0 1554.1,199.8 1556.0,199.6 1558.0,199.4 1560.0,199.2 1562.0,199.0 1564.0,198.8 1566.0,198.6 1568.0,198.4 1570.0,198.2 1572.0,198.0 1574.0,197.8 1575.9,197.6 1577.9,197.4 1579.9,197.2 1581.9,197.0 1583.9,196.9 1585.9,196.7 1587.9,196.6 1589.9,196.4 1591.9,196.3 1593.9,196.1 1595.9,196.0 1597.9,195.8 1599.9,195.7 1601.9,195.5 1603.9,195.4 1605.8,195.2 1607.8,195.1 1609.8,194.9 1611.8,194.8 1613.8,194.6 1615.8,194.5 1617.8,194.3 1619.8,194.2 1621.8,194.0 1623.8,193.9 1625.8,193.7 1627.8,193.6 1629.8,193.4 1631.8,193.3 1633.8,193.1 1635.8,193.0 1637.8,192.8 1639.7,192.7 1641.7,192.5 1643.7,192.4 1645.7,192.2 1647.7,192.1 1649.7,191.9 1651.7,191.8 1653.7,191.6 1655.7,191.5 1657.7,191.3 1659.7,191.2 1661.7,191.0 1663.7,190.7 1665.6,190.4 1667.6,190.2 1669.6,189.9 1671.6,189.6 1673.6,189.3 1675.5,189.0 1677.5,188.7 1679.5,188.4 1681.5,188.2 1683.5,188.0 1685.5,187.9 1687.5,187.9 1689.5,187.8 1691.5,187.8 1693.5,187.7 1695.5,187.7 1697.5,187.6 1699.5,187.6 1701.5,187.5 1703.5,187.5 1705.5,187.4 1707.5,187.4 1709.5,187.3 1711.5,187.3 1713.5,187.2 1715.5,187.2 1717.5,187.1 1719.5,187.1 1721.4,187.0 1723.4,186.8 1725.4,186.7 1727.4,186.5 1729.4,186.3 1731.4,186.1 1733.4,185.9 1735.4,185.7 1737.4,185.5 1739.4,185.3 1741.4,185.1 1743.3,184.9 1745.3,184.7 1747.3,184.5 1749.3,184.3 1751.3,184.1 1753.3,184.1 1755.3,184.1 1757.3,184.2 1759.3,184.2 1761.3,184.3 1763.3,184.4 1765.3,184.4 1767.3,184.5 1769.3,184.6 1771.3,184.6 1773.3,184.7 1775.3,184.8 1777.3,184.8 1779.3,184.9 1781.3,184.9 1783.3,184.8 1785.3,184.6 1787.3,184.4 1789.2,184.2 1791.2,184.0 1793.2,183.8 1795.2,183.5 1797.2,183.3 1799.2,183.1 1801.2,182.9 1803.2,182.6 1805.1,182.4 1807.1,182.2 1809.1,182.0 1811.1,181.8 1813.1,181.5 1815.1,181.3 1817.1,181.2 1819.1,181.1 1821.1,181.1 1823.1,181.2 1825.1,181.3 1827.1,181.3 1829.1,181.4 1831.1,181.5 1833.1,181.6 1835.1,181.7 1837.0,181.7 1839.0,181.8 1841.0,181.9 1843.0,181.9 1845.0,182.0 1847.0,182.0 1849.0,181.9 1851.0,181.9 1853.0,181.9 1855.0,181.8 1857.0,181.8 1859.0,181.8 1861.0,181.8 1863.0,181.7 1865.0,181.7 1867.0,181.7 1869.0,181.7 1871.0,181.6 1873.0,181.6 1875.0,181.6 1877.0,181.5 1879.0,181.5 1881.0,181.3 1883.0,181.1 1885.0,180.9 1887.0,180.6 1889.0,180.4 1891.0,180.1 1892.9,179.9 1894.9,179.6 1896.9,179.4 1898.9,179.2 1900.9,179.0 1902.9,178.9 1904.9,178.8 1906.9,178.7 1908.9,178.6 1910.9,178.6 1912.9,178.5 1914.9,178.4 1916.9,178.3 1918.9,178.2 1920.9,178.2 1922.9,178.1 1924.9,178.0 1926.9,177.9 1928.9,177.8 1930.9,177.8 1932.9,177.7 1934.9,177.6 1936.9,177.5 1938.9,177.4 1940.9,177.4 1942.9,177.3 1944.8,177.2 1946.8,177.1 1948.8,177.1 1950.8,177.0 1952.8,177.0 1954.8,177.0 1956.8,177.0 1958.8,177.0 1960.8,177.0 1962.8,177.0 1964.8,177.0 1966.8,177.0 1968.8,177.0 1970.8,177.0 1972.8,177.0 1974.8,177.0 1976.8,177.0 1978.8,177.0 1980.8,177.0 1982.8,177.0 1984.8,177.0 1986.8,177.0 1988.8,177.0 1990.8,177.0 1992.8,177.0 1994.8,177.0 1996.8,177.0 1998.8,177.0 2000.8,177.0 2002.8,176.9 2004.8,176.9 2006.8,176.9 2008.8,176.8 2010.8,176.8 2012.8,176.7 2014.8,176.7 2016.8,176.7 2018.8,176.6 2020.8,176.6 2022.8,176.5 2024.8,176.5 2026.8,176.5 2028.8,176.4 2030.8,176.4 2032.8,176.3 2034.8,176.3 2036.8,176.3 2038.8,176.2 2040.8,176.2 2042.8,176.1 2044.8,176.1 2046.8,176.1 2048.5,176.0 2050.0,176.0" fill="none" stroke="#00ff00" stroke-width="7" stroke-linejoin="round" stroke-linecap="round"/>
<path d="M300.0,1325.0 302.2,1325.0 304.0,1325.0 306.0,1325.0 308.0,1325.0 310.0,1325.0 312.0,1325.0 314.0,1325.0 316.0,1325.0 318.0,1325.0 320.0,1325.0 322.0,1325.0 324.0,1325.0 326.0,1325.0 328.0,1325.0 330.0,1325.0 332.0,1325.0 334.0,1325.0 336.0,1325.0 338.0,1325.0 340.0,1325.0 342.0,1325.0 344.0,1325.0 346.0,1325.0 348.0,1325.0 350.0,1325.0 352.0,1325.0 354.0,1325.0 356.0,1325.0 358.0,1324.9 360.0,1324.9 362.0,1324.9 364.0,1324.9 366.0,1324.9 368.0,1324.9 370.0,1324.9 372.0,1324.9 374.0,1324.9 376.0,1324.9 378.0,1324.9 380.0,1324.9 382.0,1324.9 384.0,1324.9 386.0,1324.9 388.0,1324.9 390.0,1324.9 392.0,1324.9 394.0,1324.9 396.0,1324.9 398.0,1324.9 400.0,1324.9 402.0,1324.9 404.0,1324.9 406.0,1324.9 408.0,1324.9 410.0,1324.9 412.0,1324.9 414.0,1324.9 416.0,1324.9 418.0,1324.9 420.0,1324.9 422.0,1324.9 424.0,1324.9 426.0,1324.9 428.0,1324.9 430.0,1324.9 432.0,1324.9 434.0,1324.9 436.0,1324.9 438.0,1324.9 440.0,1324.9 442.0,1324.9 444.0,1324.9 446.0,1324.9 448.0,1324.9 450.0,1324.9 452.0,1324.9 454.0,1324.9 456.0,1324.9 458.0,1324.9 460.0,1324.9 462.0,1324.9 464.0,1324.9 466.0,1324.9 468.0,1324.9 470.0,1324.9 472.0,1324.9 474.0,1324.8 476.0,1324.8 478.0,1324.8 480.0,1324.8 482.0,1324.8 484.0,1324.8 486.0,1324.8 488.0,1324.8 490.0,1324.8 492.0,1324.8 494.0,1324.8 496.0,1324.8 498.0,1324.8 500.0,1324.8 502.0,1324.8 504.0,1324.8 506.0,1324.8 508.0,1324.8 510.0,1324.8 512.0,1324.8 514.0,1324.8 516.0,1324.8 518.0,1324.8 520.0,1324.8 522.0,1324.8 524.0,1324.8 526.0,1324.8 528.0,1324.8 530.0,1324.6 532.0,1324.4 533.9,1324.0 535.9,1323.7 537.9,1323.3 539.8,1323.0 541.8,1322.6 543.7,1322.1 545.7,1321.7 547.6,1321.1 549.5,1320.6 551.5,1320.1 553.4,1319.5 555.3,1318.9 557.2,1318.4 559.1,1317.8 561.1,1317.3 563.0,1316.8 564.9,1316.3 566.9,1315.9 568.8,1315.4 570.8,1314.9 572.7,1314.5 574.7,1314.0 576.6,1313.5 578.5,1313.0 580.5,1312.5 582.4,1311.9 584.3,1311.3 586.2,1310.7 588.1,1310.1 590.0,1309.4 591.9,1308.7 593.7,1308.1 595.6,1307.3 597.4,1306.6 599.3,1305.8 601.1,1304.9 602.9,1304.1 604.7,1303.2 606.4,1302.3 608.2,1301.3 609.9,1300.4 611.7,1299.4 613.4,1298.4 615.1,1297.4 616.8,1296.3 618.5,1295.3 620.2,1294.2 621.9,1293.1 623.5,1291.9 625.1,1290.8 626.8,1289.6 628.4,1288.4 629.9,1287.2 631.5,1286.0 633.1,1284.7 634.6,1283.4 636.1,1282.2 637.7,1280.9 639.2,1279.6 640.7,1278.3 642.2,1277.0 643.7,1275.7 645.2,1274.3 646.7,1273.0 648.2,1271.7 649.7,1270.4 651.2,1269.0 652.7,1267.6 654.1,1266.3 655.5,1264.9 657.0,1263.5 658.4,1262.1 659.8,1260.7 661.2,1259.2 662.5,1257.8 663.9,1256.3 665.2,1254.8 666.5,1253.3 667.8,1251.8 669.1,1250.3 670.4,1248.7 671.7,1247.2 672.9,1245.6 674.1,1244.0 675.3,1242.5 676.6,1240.9 677.7,1239.3 678.9,1237.7 680.1,1236.0 681.3,1234.4 682.4,1232.8 683.6,1231.1 684.7,1229.5 685.9,1227.9 687.0,1226.2 688.1,1224.6 689.2,1222.9 690.4,1221.3 691.5,1219.6 692.6,1217.9 693.7,1216.3 694.8,1214.6 696.0,1213.0 697.1,1211.3 698.2,1209.6 699.3,1208.0 700.4,1206.3 701.5,1204.7 702.7,1203.0 703.8,1201.4 704.9,1199.7 706.0,1198.0 707.1,1196.4 708.2,1194.7 709.3,1193.0 710.4,1191.3 711.5,1189.7 712.6,1188.0 713.7,1186.3 714.7,1184.6 715.8,1182.9 716.9,1181.2 717.9,1179.5 719.0,1177.8 720.0,1176.1 721.0,1174.4 722.1,1172.7 723.1,1171.0 724.1,1169.3 725.1,1167.5 726.1,1165.8 727.1,1164.1 728.1,1162.3 729.1,1160.6 730.1,1158.9 731.2,1157.2 732.2,1155.4 733.2,1153.7 734.2,1152.0 735.2,1150.3 736.2,1148.5 737.2,1146.8 738.2,1145.1 739.2,1143.4 740.3,1141.6 741.3,1139.9 742.3,1138.2 743.3,1136.5 744.3,1134.7 745.3,1133.0 746.3,1131.3 747.3,1129.5 748.3,1127.8 749.3,1126.1 750.3,1124.3 751.2,1122.6 752.2,1120.8 753.2,1119.1 754.2,1117.3 755.2,1115.6 756.1,1113.9 757.1,1112.1 758.1,1110.4 759.0,1108.6 760.0,1106.9 761.0,1105.1 761.9,1103.4 762.9,1101.6 763.9,1099.9 764.8,1098.1 765.8,1096.4 766.8,1094.6 767.7,1092.9 768.7,1091.1 769.7,1089.4 770.6,1087.6 771.6,1085.9 772.6,1084.1 773.6,1082.4 774.6,1080.6 775.6,1078.9 776.6,1077.2 777.6,1075.5 778.7,1073.8 779.7,1072.1 780.8,1070.4 781.9,1068.8 783.0,1067.1 784.1,1065.4 785.2,1063.8 786.2,1062.1 787.3,1060.4 788.4,1058.7 789.4,1057.0 790.4,1055.3 791.4,1053.6 792.4,1051.8 793.4,1050.1 794.4,1048.4 795.3,1046.6 796.3,1044.8 797.2,1043.1 798.1,1041.3 799.1,1039.5 800.0,1037.8 800.9,1036.0 801.8,1034.2 802.8,1032.5 803.7,1030.7 804.6,1028.9 805.5,1027.1 806.4,1025.3 807.3,1023.6 808.2,1021.8 809.1,1020.0 810.0,1018.2 810.9,1016.4 811.8,1014.6 812.7,1012.8 813.6,1011.1 814.5,1009.3 815.4,1007.5 816.3,1005.7 817.2,1003.9 818.1,1002.1 819.0,1000.3 819.9,998.5 820.8,996.8 821.7,995.0 822.6,993.2 823.5,991.4 824.4,989.6 825.3,987.8 826.2,986.0 827.1,984.2 828.0,982.4 828.9,980.7 829.7,978.9 830.6,977.1 831.5,975.3 832.4,973.5 833.3,971.7 834.1,969.9 835.0,968.1 835.9,966.3 836.7,964.5 837.6,962.7 838.4,960.9 839.3,959.1 840.2,957.2 841.0,955.4 841.9,953.6 842.7,951.8 843.5,950.0 844.4,948.2 845.2,946.4 846.1,944.6 846.9,942.7 847.8,940.9 848.6,939.1 849.5,937.3 850.3,935.5 851.2,933.7 852.0,931.9 852.9,930.1 853.7,928.3 854.6,926.4 855.4,924.6 856.2,922.8 857.1,921.0 857.9,919.2 858.8,917.4 859.6,915.6 860.5,913.8 861.3,911.9 862.2,910.1 863.0,908.3 863.8,906.5 864.7,904.7 865.5,902.9 866.4,901.1 867.3,899.3 868.1,897.5 869.0,895.7 869.9,893.9 870.8,892.1 871.7,890.3 872.6,888.5 873.5,886.7 874.4,885.0 875.3,883.2 876.3,881.4 877.2,879.7 878.1,877.9 879.1,876.1 880.0,874.4 881.0,872.6 881.9,870.8 882.8,869.1 883.8,867.3 884.7,865.5 885.7,863.8 886.6,862.0 887.5,860.2 888.5,858.5 889.4,856.7 890.4,854.9 891.3,853.2 892.2,851.4 893.2,849.6 894.1,847.9 895.0,846.1 896.0,844.3 896.9,842.6 897.9,840.8 898.8,839.0 899.8,837.3 900.7,835.5 901.6,833.8 902.6,832.0 903.5,830.2 904.5,828.5 905.4,826.7 906.4,824.9 907.3,823.2 908.3,821.4 909.2,819.7 910.2,817.9 911.2,816.2 912.2,814.4 913.1,812.7 914.1,811.0 915.1,809.2 916.1,807.5 917.1,805.8 918.2,804.0 919.2,802.3 920.2,800.6 921.2,798.9 922.2,797.2 923.2,795.4 924.2,793.7 925.3,792.0 926.3,790.3 927.3,788.5 928.2,786.8 929.2,785.0 930.2,783.3 931.2,781.6 932.1,779.8 933.1,778.0 934.1,776.3 935.0,774.5 936.0,772.8 936.9,771.0 937.9,769.3 938.9,767.5 939.8,765.8 940.8,764.0 941.8,762.3 942.8,760.5 943.8,758.8 944.8,757.1 945.8,755.3 946.8,753.6 947.8,751.9 948.8,750.2 949.8,748.4 950.8,746.7 951.8,745.0 952.8,743.3 953.8,741.5 954.7,739.8 955.6,738.0 956.6,736.2 957.4,734.4 958.3,732.6 959.2,730.8 960.0,729.0 960.8,727.2 961.6,725.4 962.4,723.5 963.2,721.7 964.0,719.9 964.7,718.0 965.5,716.2 966.3,714.3 967.1,712.5 967.9,710.7 968.7,708.8 969.5,707.0 970.3,705.2 971.2,703.4 972.0,701.6 972.9,699.8 973.8,698.1 974.8,696.3 975.7,694.6 976.7,692.8 977.7,691.1 978.7,689.4 979.7,687.7 980.8,685.9 981.8,684.2 982.8,682.5 983.9,680.8 984.9,679.1 985.9,677.4 986.9,675.7 988.0,673.9 989.0,672.2 990.0,670.5 991.0,668.8 992.0,667.0 993.0,665.3 994.0,663.6 995.0,661.8 996.0,660.1 997.0,658.4 998.0,656.7 999.0,654.9 1000.0,653.2 1001.0,651.5 1002.0,649.7 1003.0,648.0 1004.0,646.2 1005.0,644.5 1006.0,642.8 1006.9,641.0 1007.9,639.3 1008.9,637.5 1009.9,635.8 1010.8,634.0 1011.8,632.3 1012.8,630.5 1013.7,628.8 1014.7,627.0 1015.7,625.3 1016.6,623.5 1017.6,621.8 1018.6,620.0 1019.6,618.3 1020.5,616.6 1021.5,614.8 1022.5,613.1 1023.6,611.4 1024.6,609.7 1025.6,607.9 1026.7,606.2 1027.7,604.5 1028.8,602.9 1029.9,601.2 1031.0,599.5 1032.0,597.8 1033.1,596.2 1034.3,594.5 1035.4,592.8 1036.5,591.2 1037.6,589.5 1038.7,587.9 1039.9,586.2 1041.0,584.6 1042.2,583.0 1043.4,581.3 1044.5,579.7 1045.7,578.1 1046.9,576.5 1048.1,574.9 1049.4,573.4 1050.6,571.8 1051.8,570.2 1053.0,568.6 1054.3,567.0 1055.5,565.4 1056.7,563.9 1057.9,562.2 1059.0,560.6 1060.2,559.0 1061.4,557.4 1062.5,555.7 1063.6,554.1 1064.7,552.4 1065.8,550.8 1066.9,549.1 1068.0,547.4 1069.0,545.7 1070.1,544.0 1071.2,542.3 1072.3,540.6 1073.3,539.0 1074.4,537.3 1075.5,535.6 1076.6,533.9 1077.7,532.3 1078.8,530.6 1080.0,529.0 1081.1,527.3 1082.3,525.7 1083.4,524.1 1084.6,522.5 1085.8,520.9 1087.0,519.2 1088.2,517.6 1089.4,516.0 1090.6,514.4 1091.8,512.8 1093.0,511.3 1094.2,509.7 1095.4,508.1 1096.6,506.5 1097.9,504.9 1099.1,503.3 1100.3,501.7 1101.5,500.2 1102.8,498.6 1104.0,497.0 1105.2,495.4 1106.5,493.9 1107.7,492.3 1109.0,490.7 1110.2,489.2 1111.5,487.6 1112.7,486.1 1114.0,484.5 1115.3,483.0 1116.5,481.4 1117.8,479.9 1119.1,478.4 1120.4,476.8 1121.7,475.3 1123.0,473.8 1124.3,472.3 1125.6,470.8 1126.9,469.3 1128.2,467.7 1129.5,466.2 1130.9,464.7 1132.2,463.2 1133.5,461.7 1134.8,460.3 1136.2,458.8 1137.5,457.3 1138.9,455.8 1140.3,454.4 1141.6,452.9 1143.0,451.5 1144.4,450.0 1145.8,448.6 1147.2,447.2 1148.7,445.9 1150.1,444.5 1151.6,443.2 1153.1,441.9 1154.7,440.6 1156.2,439.4 1157.8,438.2 1159.4,437.1 1161.1,435.9 1162.7,434.8 1164.3,433.6 1165.9,432.4 1167.5,431.2 1169.1,430.0 1170.6,428.7 1172.0,427.4 1173.4,426.0 1174.7,424.6 1176.0,423.1 1177.2,421.6 1178.5,420.1 1179.8,418.6 1181.0,417.1 1182.3,415.7 1183.6,414.2 1184.9,412.7 1186.2,411.3 1187.5,409.9 1189.0,408.6 1190.5,407.4 1192.1,406.2 1193.7,405.1 1195.4,404.0 1197.0,402.9 1198.7,401.8 1200.3,400.6 1201.9,399.4 1203.4,398.2 1204.9,396.9 1206.4,395.5 1207.8,394.2 1209.2,392.8 1210.7,391.4 1212.1,390.0 1213.5,388.6 1214.9,387.2 1216.3,385.8 1217.8,384.5 1219.2,383.1 1220.7,381.8 1222.2,380.5 1223.7,379.2 1225.3,378.0 1226.9,376.8 1228.5,375.6 1230.1,374.4 1231.7,373.2 1233.4,372.1 1235.0,370.9 1236.6,369.8 1238.2,368.6 1239.9,367.4 1241.5,366.2 1243.1,365.0 1244.7,363.9 1246.3,362.7 1247.9,361.5 1249.5,360.2 1251.1,359.0 1252.7,357.8 1254.3,356.6 1255.8,355.4 1257.4,354.2 1259.0,352.9 1260.6,351.7 1262.2,350.5 1263.7,349.2 1265.3,348.0 1266.8,346.7 1268.4,345.5 1270.0,344.2 1271.5,343.0 1273.1,341.7 1274.6,340.5 1276.2,339.2 1277.7,338.0 1279.3,336.7 1280.9,335.5 1282.4,334.2 1284.0,333.0 1285.6,331.8 1287.2,330.7 1288.9,329.6 1290.5,328.5 1292.2,327.4 1293.9,326.4 1295.7,325.5 1297.5,324.6 1299.3,323.7 1301.1,322.8 1302.9,322.0 1304.7,321.1 1306.5,320.2 1308.3,319.4 1310.1,318.5 1311.9,317.7 1313.7,316.8 1315.5,316.0 1317.3,315.2 1319.2,314.3 1321.0,313.5 1322.8,312.7 1324.7,311.9 1326.5,311.2 1328.4,310.4 1330.2,309.7 1332.1,309.0 1333.9,308.2 1335.8,307.5 1337.6,306.7 1339.4,305.8 1341.2,304.9 1342.9,304.0 1344.7,303.0 1346.4,302.0 1348.2,301.0 1349.9,300.0 1351.6,299.0 1353.3,298.0 1355.0,297.0 1356.8,295.9 1358.5,294.9 1360.2,293.9 1361.9,292.9 1363.7,291.9 1365.4,290.9 1367.2,290.0 1368.9,289.1 1370.7,288.2 1372.5,287.4 1374.4,286.6 1376.2,285.9 1378.1,285.2 1380.0,284.5 1381.8,283.8 1383.7,283.2 1385.6,282.5 1387.5,281.8 1389.4,281.2 1391.3,280.5 1393.2,279.8 1395.0,279.2 1396.9,278.5 1398.8,277.8 1400.7,277.1 1402.5,276.3 1404.4,275.5 1406.2,274.7 1408.0,273.9 1409.8,273.0 1411.6,272.2 1413.4,271.3 1415.2,270.4 1417.0,269.5 1418.7,268.6 1420.5,267.7 1422.3,266.7 1424.1,265.8 1425.8,264.9 1427.6,263.9 1429.3,263.0 1431.1,262.0 1432.9,261.1 1434.6,260.2 1436.4,259.3 1438.2,258.4 1440.0,257.6 1441.8,256.9 1443.7,256.3 1445.6,255.8 1447.5,255.6 1449.5,255.4 1451.5,255.3 1453.5,255.1 1455.5,255.0 1457.5,254.8 1459.5,254.7 1461.5,254.5 1463.5,254.3 1465.4,254.0 1467.3,253.5 1469.2,252.9 1471.0,252.2 1472.9,251.4 1474.7,250.6 1476.5,249.7 1478.3,248.9 1480.1,248.0 1481.9,247.1 1483.7,246.3 1485.5,245.4 1487.3,244.7 1489.1,243.9 1491.0,243.3 1492.9,242.7 1494.8,242.3 1496.8,241.9 1498.8,241.6 1500.7,241.3 1502.7,241.0 1504.7,240.7 1506.7,240.4 1508.7,240.1 1510.6,239.7 1512.6,239.4 1514.6,239.1 1516.6,238.8 1518.5,238.5 1520.5,238.2 1522.5,237.9 1524.4,237.5 1526.4,237.1 1528.3,236.6 1530.3,236.1 1532.2,235.5 1534.1,234.9 1536.0,234.3 1537.9,233.7 1539.8,233.1 1541.7,232.5 1543.6,231.8 1545.5,231.2 1547.4,230.7 1549.3,230.2 1551.2,229.9 1553.1,229.8 1555.1,229.8 1557.0,230.0 1558.9,230.1 1560.8,230.0 1562.7,229.7 1564.6,229.3 1566.4,228.7 1568.3,228.0 1570.1,227.2 1571.9,226.4 1573.7,225.6 1575.6,224.8 1577.4,224.0 1579.2,223.2 1581.0,222.4 1582.9,221.7 1584.7,221.0 1586.6,220.4 1588.5,219.9 1590.5,219.5 1592.5,219.3 1594.5,219.1 1596.4,218.8 1598.4,218.6 1600.4,218.4 1602.4,218.2 1604.4,218.0 1606.4,217.7 1608.4,217.5 1610.4,217.3 1612.4,217.1 1614.3,216.9 1616.3,216.6 1618.3,216.4 1620.3,216.2 1622.3,215.9 1624.3,215.6 1626.2,215.4 1628.2,215.1 1630.2,214.8 1632.2,214.5 1634.2,214.2 1636.1,213.9 1638.1,213.6 1640.1,213.3 1642.1,213.0 1644.0,212.7 1646.0,212.4 1648.0,212.1 1650.0,211.8 1652.0,211.5 1653.9,211.2 1655.9,210.9 1657.9,210.6 1659.9,210.3 1661.9,210.1 1663.8,209.9 1665.8,209.7 1667.8,209.6 1669.8,209.4 1671.8,209.3 1673.8,209.1 1675.8,209.0 1677.8,208.8 1679.8,208.7 1681.8,208.5 1683.8,208.4 1685.8,208.2 1687.8,208.1 1689.8,207.9 1691.8,207.8 1693.8,207.6 1695.7,207.5 1697.7,207.3 1699.7,207.2 1701.7,207.0 1703.7,206.8 1705.7,206.5 1707.7,206.3 1709.7,206.0 1711.7,205.8 1713.6,205.5 1715.6,205.3 1717.6,205.0 1719.6,204.8 1721.6,204.6 1723.6,204.3 1725.5,204.1 1727.5,203.8 1729.5,203.6 1731.5,203.3 1733.5,203.1 1735.5,202.8 1737.5,202.6 1739.4,202.3 1741.4,201.9 1743.4,201.6 1745.3,201.1 1747.3,200.7 1749.2,200.2 1751.1,199.7 1753.1,199.2 1755.0,198.8 1757.0,198.3 1758.9,197.9 1760.9,197.6 1762.8,197.4 1764.8,197.4 1766.8,197.5 1768.8,197.7 1770.8,197.9 1772.8,198.1 1774.7,198.3 1776.7,198.5 1778.7,198.7 1780.7,198.8 1782.7,198.9 1784.7,198.9 1786.7,198.9 1788.7,198.8 1790.7,198.8 1792.7,198.7 1794.7,198.7 1796.7,198.6 1798.7,198.6 1800.7,198.5 1802.7,198.5 1804.7,198.4 1806.7,198.4 1808.7,198.3 1810.7,198.3 1812.7,198.2 1814.7,198.2 1816.7,198.1 1818.7,198.1 1820.7,198.0 1822.7,197.9 1824.7,197.8 1826.7,197.7 1828.7,197.6 1830.7,197.5 1832.7,197.4 1834.7,197.3 1836.7,197.2 1838.7,197.1 1840.7,196.9 1842.7,196.8 1844.7,196.7 1846.6,196.5 1848.6,196.3 1850.6,196.1 1852.6,196.0 1854.6,195.8 1856.6,195.6 1858.6,195.4 1860.6,195.2 1862.6,195.0 1864.6,194.8 1866.6,194.6 1868.5,194.4 1870.5,194.2 1872.5,194.0 1874.5,193.8 1876.5,193.6 1878.5,193.4 1880.5,193.2 1882.5,193.0 1884.5,192.8 1886.4,192.5 1888.4,192.1 1890.3,191.6 1892.2,191.1 1894.1,190.5 1896.1,190.0 1898.0,189.4 1899.9,188.9 1901.8,188.6 1903.8,188.4 1905.7,188.3 1907.7,188.5 1909.7,188.6 1911.7,188.8 1913.7,188.9 1915.7,189.1 1917.7,189.2 1919.7,189.4 1921.7,189.6 1923.7,189.7 1925.7,189.9 1927.7,190.0 1929.7,190.2 1931.7,190.3 1933.6,190.5 1935.6,190.6 1937.6,190.8 1939.6,190.8 1941.6,190.7 1943.6,190.4 1945.6,190.2 1947.5,189.9 1949.5,189.6 1951.5,189.3 1953.5,189.0 1955.5,188.7 1957.4,188.4 1959.4,188.1 1961.4,187.8 1963.4,187.5 1965.3,187.2 1967.3,186.9 1969.3,186.6 1971.3,186.3 1973.3,186.0 1975.2,185.8 1977.2,185.7 1979.2,185.5 1981.2,185.3 1983.2,185.2 1985.2,185.0 1987.2,184.8 1989.2,184.7 1991.2,184.5 1993.2,184.4 1995.2,184.2 1997.2,184.0 1999.2,183.9 2001.2,183.7 2003.2,183.5 2005.1,183.4 2007.1,183.2 2009.1,183.1 2011.1,182.9 2013.1,182.7 2015.1,182.6 2017.1,182.5 2019.1,182.5 2021.1,182.5 2023.1,182.5 2025.1,182.5 2027.1,182.5 2029.1,182.5 2031.1,182.5 2033.1,182.5 2035.1,182.5 2037.1,182.5 2039.1,182.5 2041.1,182.5 2043.1,182.5 2045.1,182.5 2047.1,182.5 2048.7,182.5 2050.0,182.5" fill="none" stroke="#808000" stroke-width="7" stroke-linejoin="round" stroke-linecap="round"/>
<path d="M300.0,1324.8 302.2,1324.8 304.0,1324.8 306.0,1324.8 308.0,1324.8 310.0,1324.8 312.0,1324.8 314.0,1324.8 316.0,1324.8 318.0,1324.8 320.0,1324.8 322.0,1324.8 324.0,1324.8 326.0,1324.8 328.0,1324.7 330.0,1324.7 332.0,1324.7 334.0,1324.7 336.0,1324.7 338.0,1324.7 340.0,1324.7 342.0,1324.7 344.0,1324.7 346.0,1324.7 348.0,1324.7 350.0,1324.7 352.0,1324.7 354.0,1324.7 356.0,1324.7 358.0,1324.7 360.0,1324.7 362.0,1324.7 364.0,1324.7 366.0,1324.7 368.0,1324.7 370.0,1324.7 372.0,1324.7 374.0,1324.7 376.0,1324.7 378.0,1324.7 380.0,1324.6 382.0,1324.6 384.0,1324.6 386.0,1324.6 388.0,1324.6 390.0,1324.6 392.0,1324.6 394.0,1324.6 396.0,1324.6 398.0,1324.6 400.0,1324.6 402.0,1324.6 404.0,1324.6 406.0,1324.6 408.0,1324.6 410.0,1324.6 412.0,1324.6 414.0,1324.6 416.0,1324.6 418.0,1324.6 420.0,1324.6 422.0,1324.6 424.0,1324.6 426.0,1324.6 428.0,1324.6 430.0,1324.6 432.0,1324.5 434.0,1324.5 436.0,1324.5 438.0,1324.5 440.0,1324.5 442.0,1324.5 444.0,1324.5 446.0,1324.5 448.0,1324.5 450.0,1324.5 452.0,1324.5 454.0,1324.5 456.0,1324.5 458.0,1324.5 460.0,1324.5 462.0,1324.5 464.0,1324.5 466.0,1324.5 468.0,1324.5 470.0,1324.5 472.0,1324.5 474.0,1324.5 476.0,1324.5 478.0,1324.5 480.0,1324.5 482.0,1324.5 484.0,1324.4 486.0,1324.4 488.0,1324.4 490.0,1324.4 492.0,1324.4 494.0,1324.4 496.0,1324.4 498.0,1324.4 500.0,1324.4 502.0,1324.4 504.0,1324.4 506.0,1324.4 508.0,1324.4 510.0,1324.4 512.0,1324.4 514.0,1324.4 516.0,1324.4 518.0,1324.4 520.0,1324.4 522.0,1324.4 524.0,1324.4 526.0,1324.4 528.0,1324.4 530.0,1324.4 532.0,1324.4 534.0,1324.4 536.0,1324.3 538.0,1324.3 540.0,1324.3 542.0,1324.3 544.0,1324.3 546.0,1324.3 548.0,1324.3 550.0,1324.3 552.0,1324.3 554.0,1324.3 556.0,1324.3 558.0,1324.3 560.0,1324.3 562.0,1324.2 564.0,1324.2 566.0,1324.1 568.0,1324.1 570.0,1324.0 572.0,1323.9 574.0,1323.9 576.0,1323.8 578.0,1323.7 580.0,1323.7 582.0,1323.6 584.0,1323.6 586.0,1323.5 588.0,1323.4 590.0,1323.4 592.0,1323.3 594.0,1323.2 596.0,1323.1 598.0,1323.0 600.0,1322.9 602.0,1322.7 604.0,1322.6 606.0,1322.4 607.9,1322.3 609.9,1322.1 611.9,1322.0 613.9,1321.8 615.9,1321.6 617.9,1321.4 619.9,1321.2 621.9,1321.0 623.9,1320.8 625.9,1320.6 627.9,1320.4 629.8,1320.2 631.8,1319.9 633.8,1319.7 635.8,1319.4 637.8,1319.1 639.8,1318.8 641.7,1318.5 643.7,1318.2 645.7,1317.9 647.7,1317.6 649.6,1317.3 651.6,1316.9 653.6,1316.5 655.5,1316.1 657.5,1315.7 659.4,1315.3 661.4,1314.9 663.3,1314.5 665.3,1314.0 667.2,1313.5 669.2,1313.0 671.1,1312.5 673.0,1311.9 674.9,1311.4 676.8,1310.8 678.8,1310.2 680.7,1309.6 682.6,1309.0 684.5,1308.4 686.4,1307.8 688.3,1307.1 690.2,1306.5 692.0,1305.8 693.9,1305.2 695.8,1304.5 697.7,1303.8 699.5,1303.1 701.4,1302.3 703.2,1301.5 705.1,1300.7 706.9,1299.9 708.7,1299.0 710.5,1298.2 712.3,1297.3 714.1,1296.4 715.8,1295.5 717.6,1294.6 719.4,1293.6 721.1,1292.7 722.9,1291.7 724.6,1290.7 726.4,1289.7 728.1,1288.7 729.8,1287.7 731.6,1286.7 733.3,1285.7 735.0,1284.7 736.7,1283.7 738.5,1282.7 740.2,1281.6 741.9,1280.6 743.6,1279.5 745.2,1278.4 746.9,1277.3 748.6,1276.2 750.2,1275.1 751.8,1273.9 753.5,1272.8 755.1,1271.6 756.7,1270.4 758.3,1269.3 759.9,1268.1 761.5,1266.9 763.1,1265.7 764.7,1264.5 766.3,1263.2 767.8,1262.0 769.4,1260.7 770.9,1259.4 772.4,1258.1 773.9,1256.8 775.4,1255.4 776.9,1254.1 778.3,1252.8 779.8,1251.4 781.3,1250.0 782.7,1248.7 784.2,1247.3 785.6,1245.9 787.1,1244.5 788.5,1243.1 789.9,1241.7 791.3,1240.3 792.7,1238.9 794.1,1237.4 795.5,1236.0 796.8,1234.5 798.2,1233.0 799.5,1231.5 800.8,1230.1 802.2,1228.6 803.5,1227.1 804.8,1225.6 806.1,1224.1 807.5,1222.6 808.8,1221.1 810.1,1219.6 811.4,1218.1 812.8,1216.6 814.1,1215.1 815.4,1213.6 816.7,1212.1 818.0,1210.5 819.3,1209.0 820.7,1207.5 822.0,1206.0 823.3,1204.5 824.6,1203.0 825.9,1201.5 827.3,1200.0 828.6,1198.5 829.9,1197.0 831.2,1195.5 832.6,1194.0 833.9,1192.5 835.2,1191.0 836.5,1189.5 837.8,1188.0 839.1,1186.5 840.4,1185.0 841.7,1183.4 843.0,1181.9 844.2,1180.3 845.5,1178.8 846.7,1177.2 847.9,1175.6 849.2,1174.1 850.4,1172.5 851.6,1170.9 852.8,1169.3 854.0,1167.7 855.2,1166.1 856.4,1164.5 857.6,1162.9 858.8,1161.3 860.0,1159.7 861.2,1158.1 862.4,1156.5 863.6,1154.9 864.8,1153.3 865.9,1151.6 867.1,1150.0 868.3,1148.4 869.4,1146.8 870.6,1145.1 871.8,1143.5 872.9,1141.9 874.1,1140.3 875.3,1138.6 876.4,1137.0 877.6,1135.4 878.7,1133.8 879.9,1132.1 881.1,1130.5 882.2,1128.9 883.4,1127.2 884.6,1125.6 885.7,1124.0 886.9,1122.4 888.0,1120.7 889.2,1119.1 890.4,1117.5 891.5,1115.8 892.7,1114.2 893.8,1112.6 894.9,1110.9 896.1,1109.3 897.2,1107.6 898.3,1106.0 899.4,1104.3 900.5,1102.6 901.6,1100.9 902.7,1099.3 903.7,1097.6 904.8,1095.9 905.8,1094.2 906.9,1092.5 907.9,1090.8 909.0,1089.0 910.0,1087.3 911.0,1085.6 912.1,1083.9 913.1,1082.2 914.1,1080.5 915.2,1078.8 916.2,1077.1 917.2,1075.4 918.3,1073.7 919.3,1071.9 920.4,1070.2 921.4,1068.5 922.4,1066.8 923.4,1065.1 924.5,1063.4 925.5,1061.6 926.5,1059.9 927.5,1058.2 928.4,1056.4 929.4,1054.7 930.4,1052.9 931.3,1051.2 932.3,1049.4 933.2,1047.6 934.1,1045.9 935.1,1044.1 936.0,1042.3 936.9,1040.6 937.9,1038.8 938.8,1037.0 939.7,1035.3 940.6,1033.5 941.6,1031.7 942.5,1029.9 943.4,1028.2 944.4,1026.4 945.3,1024.7 946.3,1022.9 947.2,1021.1 948.2,1019.4 949.1,1017.6 950.1,1015.9 951.0,1014.1 952.0,1012.4 953.0,1010.6 953.9,1008.8 954.9,1007.1 955.9,1005.3 956.8,1003.6 957.8,1001.8 958.7,1000.1 959.7,998.3 960.6,996.6 961.6,994.8 962.5,993.0 963.4,991.2 964.3,989.5 965.2,987.7 966.1,985.9 967.0,984.1 967.9,982.3 968.8,980.5 969.7,978.8 970.6,977.0 971.4,975.2 972.3,973.5 973.3,971.7 974.2,970.0 975.1,968.4 976.1,966.7 977.0,965.1 978.0,963.5 979.0,962.0 980.1,960.5 981.2,959.1 982.4,957.8 983.6,956.6 984.8,955.4 986.0,954.0 987.1,952.6 988.1,951.0 989.1,949.5 990.1,947.9 991.1,946.2 992.1,944.6 993.1,942.9 994.0,941.2 994.9,939.5 995.9,937.7 996.8,936.0 997.7,934.2 998.6,932.5 999.6,930.7 1000.5,928.9 1001.5,927.2 1002.4,925.4 1003.4,923.7 1004.4,921.9 1005.4,920.2 1006.4,918.5 1007.5,916.8 1008.5,915.1 1009.6,913.4 1010.7,911.7 1011.7,910.1 1012.8,908.4 1013.9,906.7 1015.0,905.0 1016.1,903.3 1017.1,901.6 1018.2,899.9 1019.2,898.2 1020.2,896.5 1021.2,894.8 1022.2,893.1 1023.2,891.3 1024.2,889.6 1025.1,887.8 1026.1,886.0 1027.0,884.3 1027.9,882.5 1028.8,880.7 1029.7,878.9 1030.6,877.2 1031.5,875.4 1032.5,873.6 1033.4,871.8 1034.3,870.0 1035.2,868.3 1036.1,866.5 1037.1,864.7 1038.0,863.0 1038.9,861.2 1039.9,859.5 1040.9,857.7 1041.9,856.0 1042.8,854.2 1043.8,852.5 1044.8,850.8 1045.8,849.0 1046.9,847.3 1047.9,845.6 1048.9,843.9 1049.9,842.2 1051.0,840.4 1052.0,838.7 1053.0,837.0 1054.0,835.3 1055.0,833.6 1056.0,831.8 1057.0,830.1 1058.0,828.4 1059.0,826.6 1060.0,824.9 1060.9,823.1 1061.9,821.4 1062.8,819.6 1063.7,817.8 1064.7,816.0 1065.6,814.3 1066.5,812.5 1067.4,810.7 1068.3,808.9 1069.2,807.1 1070.1,805.4 1071.0,803.6 1071.9,801.8 1072.8,800.0 1073.7,798.2 1074.6,796.5 1075.6,794.7 1076.5,792.9 1077.4,791.1 1078.4,789.4 1079.4,787.6 1080.3,785.9 1081.3,784.2 1082.3,782.4 1083.3,780.7 1084.3,779.0 1085.3,777.2 1086.3,775.5 1087.4,773.8 1088.4,772.1 1089.4,770.4 1090.4,768.6 1091.4,766.9 1092.5,765.2 1093.5,763.5 1094.5,761.7 1095.5,760.0 1096.5,758.3 1097.5,756.5 1098.4,754.8 1099.4,753.0 1100.4,751.3 1101.3,749.5 1102.2,747.8 1103.2,746.0 1104.1,744.2 1105.0,742.4 1105.9,740.7 1106.8,738.9 1107.7,737.1 1108.6,735.3 1109.5,733.5 1110.4,731.7 1111.3,729.9 1112.2,728.2 1113.1,726.4 1114.0,724.6 1114.9,722.8 1115.8,721.0 1116.7,719.2 1117.6,717.4 1118.5,715.6 1119.3,713.8 1120.2,712.0 1121.1,710.2 1122.0,708.4 1122.8,706.7 1123.7,704.9 1124.6,703.1 1125.4,701.3 1126.3,699.5 1127.2,697.7 1128.1,695.9 1129.0,694.1 1129.9,692.3 1130.8,690.6 1131.7,688.8 1132.7,687.1 1133.7,685.4 1134.8,683.7 1135.8,682.0 1136.9,680.3 1138.0,678.7 1139.1,677.0 1140.2,675.4 1141.3,673.7 1142.5,672.1 1143.6,670.4 1144.8,668.8 1145.9,667.2 1147.1,665.5 1148.2,663.9 1149.4,662.3 1150.6,660.7 1151.8,659.1 1153.1,657.5 1154.3,656.0 1155.6,654.4 1156.8,652.9 1158.2,651.4 1159.5,650.0 1160.9,648.5 1162.3,647.1 1163.7,645.7 1165.1,644.2 1166.5,642.8 1167.9,641.5 1169.4,640.1 1170.8,638.7 1172.3,637.4 1173.8,636.0 1175.3,634.7 1176.8,633.4 1178.3,632.1 1179.9,630.9 1181.5,629.6 1183.0,628.4 1184.6,627.2 1186.2,626.0 1187.9,624.8 1189.5,623.7 1191.1,622.5 1192.7,621.4 1194.4,620.2 1196.0,619.1 1197.7,618.0 1199.3,616.9 1201.0,615.8 1202.7,614.6 1204.3,613.5 1206.0,612.4 1207.7,611.3 1209.4,610.2 1211.0,609.1 1212.7,608.0 1214.4,606.9 1216.0,605.8 1217.7,604.8 1219.4,603.7 1221.1,602.6 1222.8,601.5 1224.4,600.5 1226.1,599.4 1227.9,598.4 1229.6,597.5 1231.4,596.6 1233.2,595.7 1235.0,595.0 1236.9,594.3 1238.8,593.7 1240.7,593.1 1242.6,592.5 1244.5,592.0 1246.4,591.4 1248.3,590.8 1250.3,590.3 1252.2,589.7 1254.1,589.1 1256.0,588.6 1257.9,588.0 1259.8,587.4 1261.8,586.8 1263.7,586.3 1265.6,585.7 1267.5,585.1 1269.4,584.6 1271.3,584.0 1273.2,583.4 1275.1,582.7 1277.0,582.1 1278.9,581.4 1280.7,580.6 1282.6,579.9 1284.4,579.1 1286.2,578.3 1288.1,577.4 1289.9,576.6 1291.7,575.8 1293.5,575.0 1295.4,574.1 1297.2,573.3 1299.0,572.5 1300.8,571.7 1302.6,570.9 1304.5,570.0 1306.3,569.2 1308.1,568.4 1309.9,567.6 1311.8,566.8 1313.6,566.0 1315.4,565.2 1317.3,564.5 1319.2,563.8 1321.0,563.2 1323.0,562.8 1324.9,562.5 1326.9,562.2 1328.9,562.0 1330.9,561.8 1332.9,561.5 1334.9,561.3 1336.8,561.1 1338.8,560.8 1340.8,560.6 1342.8,560.4 1344.8,560.2 1346.8,559.9 1348.8,559.7 1350.7,559.3 1352.5,558.8 1354.3,558.0 1356.0,557.1 1357.6,556.2 1359.3,555.3 1361.0,554.4 1362.7,553.5 1364.4,552.6 1366.2,551.8 1368.1,551.2 1370.0,550.7 1371.9,550.3 1373.9,550.0 1375.9,549.6 1377.8,549.2 1379.8,548.9 1381.8,548.5 1383.7,548.1 1385.7,547.8 1387.7,547.4 1389.6,547.0 1391.6,546.7 1393.6,546.3 1395.5,545.9 1397.5,545.6 1399.5,545.2 1401.4,544.9 1403.4,544.5 1405.4,544.2 1407.4,544.0 1409.4,543.9 1411.4,543.9 1413.4,543.8 1415.4,543.8 1417.4,543.7 1419.3,543.7 1421.3,543.6 1423.3,543.6 1425.3,543.5 1427.3,543.5 1429.3,543.4 1431.3,543.4 1433.3,543.3 1435.3,543.3 1437.3,543.3 1439.3,543.2 1441.3,543.2 1443.3,543.1 1445.3,543.1 1447.3,543.0 1449.3,542.9 1451.3,542.8 1453.3,542.7 1455.3,542.5 1457.3,542.4 1459.3,542.3 1461.3,542.2 1463.3,542.0 1465.3,541.9 1467.3,541.8 1469.3,541.6 1471.3,541.5 1473.3,541.4 1475.3,541.3 1477.3,541.1 1479.3,541.0 1481.3,540.9 1483.3,540.7 1485.3,540.6 1487.3,540.5 1489.3,540.3 1491.2,540.1 1493.1,539.7 1494.9,539.0 1496.7,538.3 1498.5,537.5 1500.2,536.8 1502.0,536.0 1503.8,535.4 1505.7,534.9 1507.6,534.7 1509.6,534.5 1511.6,534.4 1513.6,534.3 1515.6,534.1 1517.6,534.0 1519.6,533.9 1521.6,533.8 1523.6,533.6 1525.6,533.5 1527.6,533.4 1529.6,533.3 1531.6,533.2 1533.6,533.0 1535.6,532.9 1537.6,532.9 1539.6,532.8 1541.6,532.7 1543.6,532.6 1545.6,532.6 1547.6,532.5 1549.6,532.4 1551.6,532.3 1553.6,532.3 1555.6,532.2 1557.6,532.1 1559.6,532.0 1561.6,532.0 1563.6,531.9 1565.6,531.8 1567.6,531.7 1569.6,531.7 1571.6,531.6 1573.6,531.5 1575.6,531.4 1577.6,531.4 1579.5,531.3 1581.5,531.2 1583.5,531.1 1585.5,531.1 1587.5,531.0 1589.5,531.0 1591.5,531.0 1593.5,531.0 1595.5,531.0 1597.5,531.0 1599.5,530.9 1601.5,530.8 1603.5,530.7 1605.5,530.5 1607.5,530.3 1609.5,530.1 1611.5,529.9 1613.5,529.8 1615.5,529.6 1617.5,529.4 1619.5,529.2 1621.5,529.0 1623.4,528.8 1625.4,528.7 1627.4,528.5 1629.4,528.3 1631.4,528.1 1633.4,527.9 1635.4,527.7 1637.4,527.5 1639.4,527.4 1641.4,527.2 1643.4,527.0 1645.4,526.8 1647.3,526.6 1649.3,526.4 1651.3,526.3 1653.3,526.1 1655.3,525.9 1657.3,525.7 1659.3,525.5 1661.3,525.3 1663.3,525.2 1665.3,525.0 1667.3,524.9 1669.3,524.8 1671.3,524.7 1673.3,524.6 1675.3,524.5 1677.3,524.4 1679.3,524.4 1681.3,524.3 1683.2,524.2 1685.2,524.1 1687.2,524.0 1689.2,523.9 1691.2,523.8 1693.2,523.7 1695.2,523.6 1697.2,523.5 1699.2,523.4 1701.2,523.4 1703.2,523.3 1705.2,523.2 1707.2,523.1 1709.2,523.0 1711.2,522.9 1713.2,522.8 1715.2,522.7 1717.2,522.6 1719.2,522.5 1721.2,522.4 1723.2,522.4 1725.2,522.3 1727.2,522.2 1729.2,522.1 1731.2,522.0 1733.2,521.9 1735.2,521.7 1737.2,521.6 1739.2,521.5 1741.2,521.4 1743.2,521.3 1745.2,521.1 1747.2,521.0 1749.2,520.9 1751.2,520.8 1753.2,520.6 1755.2,520.5 1757.1,520.4 1759.1,520.3 1761.1,520.1 1763.1,520.0 1765.1,519.9 1767.1,519.8 1769.1,519.7 1771.1,519.5 1773.1,519.4 1775.1,519.3 1777.1,519.2 1779.1,519.0 1781.1,518.9 1783.1,518.8 1785.1,518.7 1787.1,518.5 1789.1,518.4 1791.1,518.3 1793.1,518.2 1795.1,518.1 1797.1,518.0 1799.1,517.9 1801.1,517.8 1803.1,517.7 1805.1,517.7 1807.1,517.6 1809.1,517.5 1811.1,517.4 1813.1,517.4 1815.1,517.3 1817.1,517.2 1819.1,517.1 1821.1,517.1 1823.1,517.0 1825.1,516.9 1827.1,516.9 1829.1,516.8 1831.1,516.7 1833.1,516.6 1835.0,516.6 1837.0,516.5 1839.0,516.4 1841.0,516.3 1843.0,516.3 1845.0,516.2 1847.0,516.1 1849.0,516.0 1851.0,516.0 1853.0,515.9 1855.0,515.8 1857.0,515.7 1859.0,515.7 1861.0,515.6 1863.0,515.6 1865.0,515.5 1867.0,515.5 1869.0,515.4 1871.0,515.4 1873.0,515.3 1875.0,515.3 1877.0,515.2 1879.0,515.2 1881.0,515.1 1883.0,515.1 1885.0,515.0 1887.0,515.0 1889.0,514.9 1891.0,514.9 1893.0,514.8 1895.0,514.8 1897.0,514.7 1899.0,514.7 1901.0,514.6 1903.0,514.6 1905.0,514.5 1907.0,514.5 1909.0,514.4 1911.0,514.4 1913.0,514.3 1915.0,514.3 1917.0,514.2 1919.0,514.2 1921.0,514.1 1923.0,514.1 1925.0,514.0 1927.0,514.0 1929.0,513.9 1931.0,513.9 1933.0,513.8 1935.0,513.8 1937.0,513.7 1939.0,513.6 1941.0,513.6 1943.0,513.5 1945.0,513.4 1947.0,513.4 1949.0,513.3 1951.0,513.3 1953.0,513.2 1955.0,513.1 1957.0,513.1 1959.0,513.0 1961.0,513.0 1963.0,512.9 1965.0,512.8 1967.0,512.8 1969.0,512.7 1971.0,512.6 1973.0,512.6 1975.0,512.5 1977.0,512.5 1979.0,512.4 1981.0,512.3 1983.0,512.3 1985.0,512.2 1987.0,512.2 1989.0,512.1 1991.0,512.0 1993.0,511.9 1995.0,511.8 1997.0,511.7 1999.0,511.6 2001.0,511.5 2003.0,511.4 2005.0,511.3 2007.0,511.2 2009.0,511.1 2011.0,511.0 2013.0,510.9 2015.0,510.8 2016.9,510.7 2018.9,510.6 2020.9,510.5 2022.9,510.4 2024.9,510.3 2026.9,510.2 2028.9,510.1 2030.9,510.0 2032.9,509.9 2034.9,509.8 2036.9,509.7 2038.9,509.6 2040.9,509.5 2042.9,509.4 2044.9,509.3 2046.8,509.2 2048.4,509.1 2050.0,509.0" fill="none" stroke="#ff00ff" stroke-width="7" stroke-linejoin="round" stroke-linecap="round"/>
<rect x="300" y="44.8" width="1750.5" height="1412.0" fill="none" stroke="#000" stroke-width="6.2"/>
<path d="M272,1456.8H300M286,1391.8H300M272,1327.7H300M286,1263.6H300M272,1199.4H300M286,1135.3H300M272,1071.1H300M286,1007.0H300M272,942.8H300M286,878.7H300M272,814.5H300M286,750.4H300M272,686.2H300M286,622.1H300M272,558.0H300M286,493.8H300M272,429.7H300M286,365.5H300M272,301.4H300M286,237.2H300M272,173.1H300M286,108.9H300M272,44.8H300M300.0,1456.8V1483.8M475.0,1456.8V1468.8M650.1,1456.8V1483.8M825.1,1456.8V1468.8M1000.2,1456.8V1483.8M1175.2,1456.8V1468.8M1350.3,1456.8V1483.8M1525.3,1456.8V1468.8M1700.4,1456.8V1483.8M1875.5,1456.8V1468.8M2050.5,1456.8V1483.8" stroke="#000" stroke-width="6.2" fill="none"/>
<g font-family="Liberation Serif, serif" font-size="62" fill="#000"><text transform="translate(253,1480.3) scale(1,1.0)" text-anchor="end">−10</text><text transform="translate(253,1351.2) scale(1,1.0)" text-anchor="end">0</text><text transform="translate(253,1222.9) scale(1,1.0)" text-anchor="end">10</text><text transform="translate(253,1094.6) scale(1,1.0)" text-anchor="end">20</text><text transform="translate(253,966.3) scale(1,1.0)" text-anchor="end">30</text><text transform="translate(253,838.0) scale(1,1.0)" text-anchor="end">40</text><text transform="translate(253,709.8) scale(1,1.0)" text-anchor="end">50</text><text transform="translate(253,581.5) scale(1,1.0)" text-anchor="end">60</text><text transform="translate(253,453.2) scale(1,1.0)" text-anchor="end">70</text><text transform="translate(253,324.9) scale(1,1.0)" text-anchor="end">80</text><text transform="translate(253,196.6) scale(1,1.0)" text-anchor="end">90</text><text transform="translate(253,68.3) scale(1,1.0)" text-anchor="end">100</text><text transform="translate(300.0,1554.5) scale(1,1.04)" text-anchor="middle">300</text><text transform="translate(650.1,1554.5) scale(1,1.04)" text-anchor="middle">400</text><text transform="translate(1000.2,1554.5) scale(1,1.04)" text-anchor="middle">500</text><text transform="translate(1350.3,1554.5) scale(1,1.04)" text-anchor="middle">600</text><text transform="translate(1700.4,1554.5) scale(1,1.04)" text-anchor="middle">700</text><text transform="translate(2050.5,1554.5) scale(1,1.04)" text-anchor="middle">800</text></g>
<text transform="translate(919,1654.4) scale(1.0,0.975)" font-family="Liberation Serif, serif" font-size="74">Wavelength (nm)</text>
<text transform="translate(80,723.9) rotate(-90)" text-anchor="middle" font-family="Liberation Serif, serif" font-size="74">Transmittance (%)</text>
<rect x="1234.6" y="875" width="789.4000000000001" height="535.4000000000001" fill="#fff" stroke="#4e4e4e" stroke-width="3.5"/>
<path d="M1244,923.6H1404" stroke="#000000" stroke-width="7.5" stroke-linecap="round"/>
<text transform="translate(1421.0,948.2) scale(0.99,1)" font-family="Liberation Serif, serif" font-size="72">PI</text>
<text transform="translate(1478.6,943.8) scale(0.995,0.831)" font-family="'Noto Serif CJK SC', 'Liberation Serif', serif" font-size="72">（</text>
<text transform="translate(1558.0,948.2) scale(0.9863,1)" font-family="Liberation Serif, serif" font-size="72">TFDB-6FDA</text>
<text transform="translate(1946.4,943.8) scale(0.995,0.831)" font-family="'Noto Serif CJK SC', 'Liberation Serif', serif" font-size="72">）</text>
<path d="M1244,1011.3H1404" stroke="#ff0000" stroke-width="7.5" stroke-linecap="round"/>
<text transform="translate(1421.3,1035.9) scale(0.981,1)" font-family="Liberation Serif, serif" font-size="72">PIS05</text>
<path d="M1244,1099.0H1404" stroke="#0000ff" stroke-width="7.5" stroke-linecap="round"/>
<text transform="translate(1421.3,1123.6) scale(0.981,1)" font-family="Liberation Serif, serif" font-size="72">PIS10</text>
<path d="M1244,1186.7H1404" stroke="#00ff00" stroke-width="7.5" stroke-linecap="round"/>
<text transform="translate(1421.3,1211.3) scale(0.981,1)" font-family="Liberation Serif, serif" font-size="72">PIS20</text>
<path d="M1244,1274.4H1404" stroke="#808000" stroke-width="7.5" stroke-linecap="round"/>
<text transform="translate(1421.3,1299.0) scale(0.981,1)" font-family="Liberation Serif, serif" font-size="72">PIS30</text>
<path d="M1244,1362.1H1404" stroke="#ff00ff" stroke-width="7.5" stroke-linecap="round"/>
<text transform="translate(1421.0,1386.7) scale(0.99,1)" font-family="Liberation Serif, serif" font-size="72">PI</text>
<text transform="translate(1478.6,1382.3) scale(0.995,0.831)" font-family="'Noto Serif CJK SC', 'Liberation Serif', serif" font-size="72">（</text>
<text transform="translate(1555.4,1386.7) scale(0.993,1)" font-family="Liberation Serif, serif" font-size="72">ODA-PMDA</text>
<text transform="translate(1946.4,1382.3) scale(0.995,0.831)" font-family="'Noto Serif CJK SC', 'Liberation Serif', serif" font-size="72">）</text>
</svg>
</body></html>
